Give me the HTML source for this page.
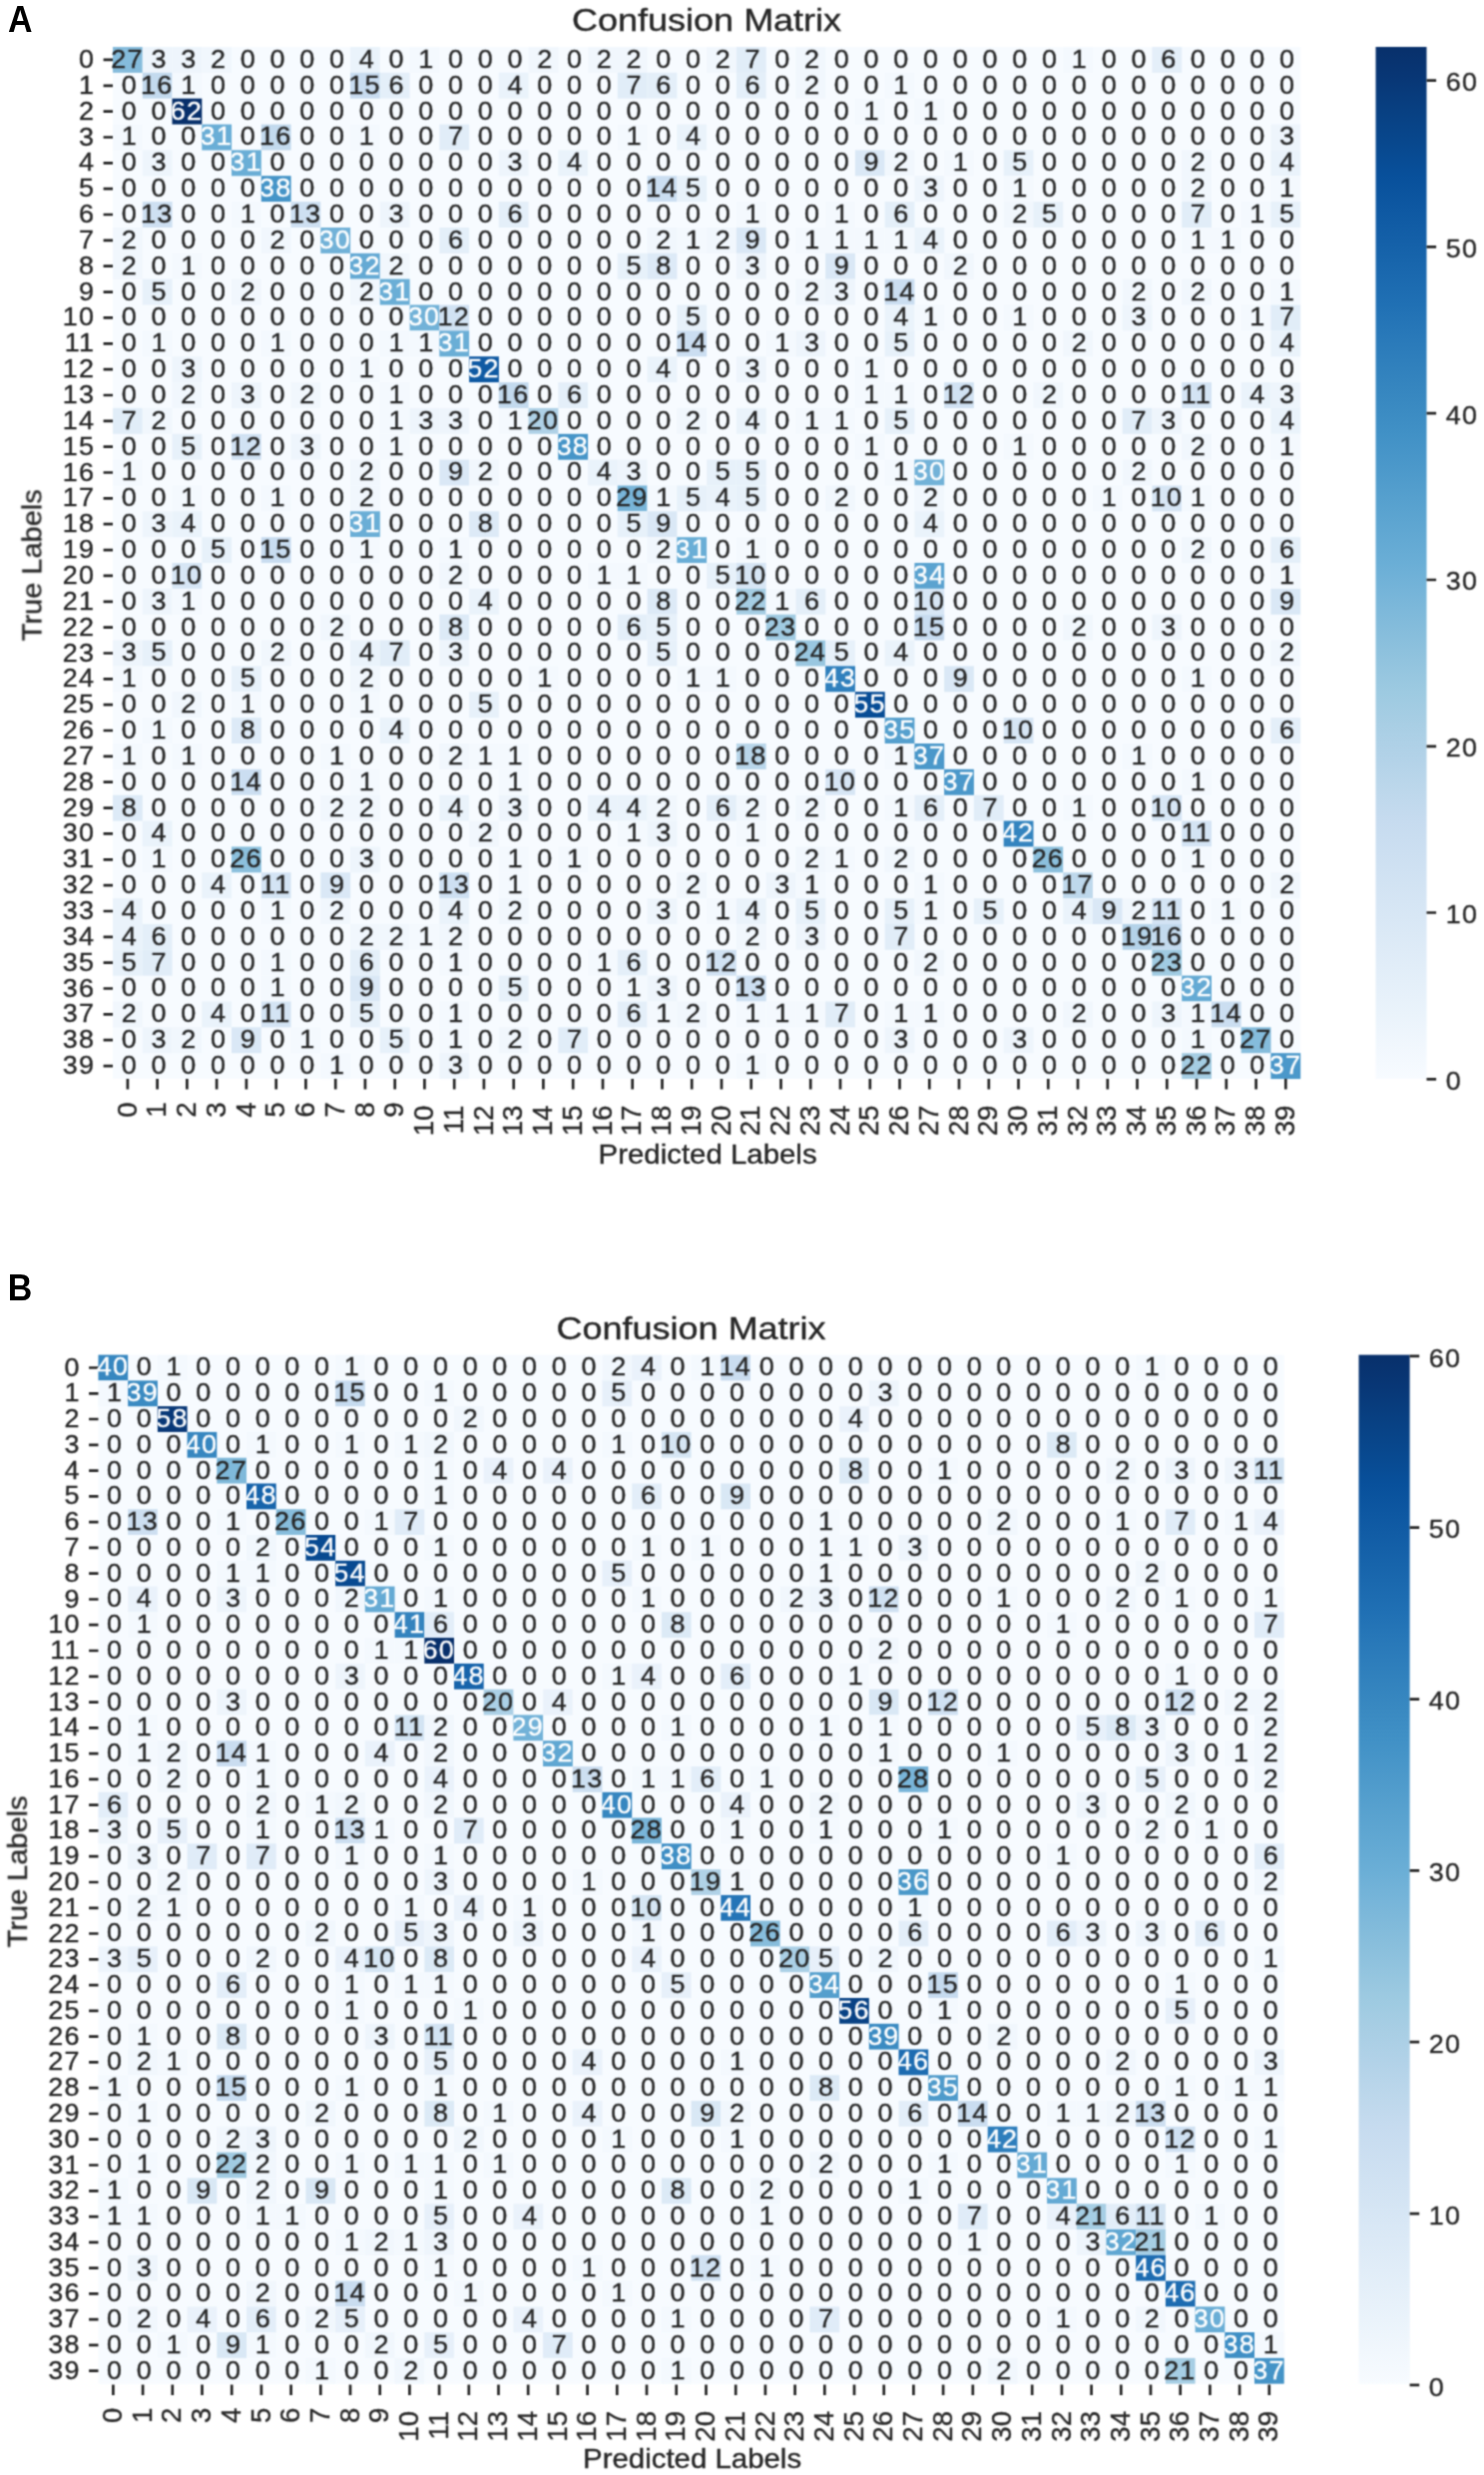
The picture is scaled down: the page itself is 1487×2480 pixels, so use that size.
<!DOCTYPE html>
<html lang="en"><head><meta charset="utf-8"><title>Confusion Matrix</title>
<style>
html,body{margin:0;padding:0;background:#fff}
svg{display:block}
text{font-family:"Liberation Sans",sans-serif;font-size:25.9px;fill:#262626;stroke:#262626;stroke-width:0.35px}
.an text{text-anchor:middle}
.an .w{fill:#fff;stroke:#fff}
.d{letter-spacing:1.2px}
.yt text{text-anchor:end}
.xt text{text-anchor:end;font-size:27.6px}
.ti{font-size:31.2px;text-anchor:middle}
.lb{text-anchor:middle;font-size:27.2px}
.pl{font-weight:bold;font-size:36.3px;fill:#000;stroke:none}
</style></head>
<body>
<svg width="1487" height="2480" viewBox="0 0 1487 2480">
<rect width="1487" height="2480" fill="#fff"/>
<defs><filter id="bl" filterUnits="userSpaceOnUse" x="0" y="0" width="1487" height="2480" color-interpolation-filters="sRGB"><feConvolveMatrix order="5 1" kernelMatrix="0.0152 0.2188 0.5321 0.2188 0.0152" edgeMode="duplicate"/><feConvolveMatrix order="1 5" kernelMatrix="0.0152 0.2188 0.5321 0.2188 0.0152" edgeMode="duplicate"/></filter><filter id="bt" filterUnits="userSpaceOnUse" x="0" y="0" width="1487" height="2480" color-interpolation-filters="sRGB"><feConvolveMatrix order="5 1" kernelMatrix="0.0219 0.2285 0.4991 0.2285 0.0219" edgeMode="duplicate"/><feConvolveMatrix order="1 5" kernelMatrix="0.0219 0.2285 0.4991 0.2285 0.0219" edgeMode="duplicate"/></filter></defs>
<g filter="url(#bl)">
<rect x="113" y="47" width="1190.2" height="1034" fill="#f7fbff"/>
<rect x="113" y="47" width="29.8" height="25.9" fill="#85bcdc"/>
<rect x="142.8" y="47" width="29.8" height="25.9" fill="#eef5fc"/>
<rect x="172.5" y="47" width="29.8" height="25.9" fill="#eef5fc"/>
<rect x="202.3" y="47" width="29.8" height="25.9" fill="#f1f7fd"/>
<rect x="351" y="47" width="29.8" height="25.9" fill="#eaf3fb"/>
<rect x="410.6" y="47" width="29.8" height="25.9" fill="#f4f9fe"/>
<rect x="529.6" y="47" width="29.8" height="25.9" fill="#f1f7fd"/>
<rect x="589.1" y="47" width="29.8" height="25.9" fill="#f1f7fd"/>
<rect x="618.8" y="47" width="29.8" height="25.9" fill="#f1f7fd"/>
<rect x="708.1" y="47" width="29.8" height="25.9" fill="#f1f7fd"/>
<rect x="737.9" y="47" width="29.8" height="25.9" fill="#e1edf8"/>
<rect x="797.4" y="47" width="29.8" height="25.9" fill="#f1f7fd"/>
<rect x="1065.2" y="47" width="29.8" height="25.9" fill="#f4f9fe"/>
<rect x="1154.4" y="47" width="29.8" height="25.9" fill="#e4eff9"/>
<rect x="142.8" y="72.8" width="29.8" height="25.9" fill="#c3daee"/>
<rect x="172.5" y="72.8" width="29.8" height="25.9" fill="#f4f9fe"/>
<rect x="351" y="72.8" width="29.8" height="25.9" fill="#c8dcf0"/>
<rect x="380.8" y="72.8" width="29.8" height="25.9" fill="#e4eff9"/>
<rect x="499.8" y="72.8" width="29.8" height="25.9" fill="#eaf3fb"/>
<rect x="618.8" y="72.8" width="29.8" height="25.9" fill="#e1edf8"/>
<rect x="648.6" y="72.8" width="29.8" height="25.9" fill="#e4eff9"/>
<rect x="737.9" y="72.8" width="29.8" height="25.9" fill="#e4eff9"/>
<rect x="797.4" y="72.8" width="29.8" height="25.9" fill="#f1f7fd"/>
<rect x="886.6" y="72.8" width="29.8" height="25.9" fill="#f4f9fe"/>
<rect x="172.5" y="98.7" width="29.8" height="25.9" fill="#08306b"/>
<rect x="856.9" y="98.7" width="29.8" height="25.9" fill="#f4f9fe"/>
<rect x="916.4" y="98.7" width="29.8" height="25.9" fill="#f4f9fe"/>
<rect x="113" y="124.6" width="29.8" height="25.9" fill="#f4f9fe"/>
<rect x="202.3" y="124.6" width="29.8" height="25.9" fill="#6aaed6"/>
<rect x="261.8" y="124.6" width="29.8" height="25.9" fill="#c3daee"/>
<rect x="351" y="124.6" width="29.8" height="25.9" fill="#f4f9fe"/>
<rect x="440.3" y="124.6" width="29.8" height="25.9" fill="#e1edf8"/>
<rect x="618.8" y="124.6" width="29.8" height="25.9" fill="#f4f9fe"/>
<rect x="678.3" y="124.6" width="29.8" height="25.9" fill="#eaf3fb"/>
<rect x="1273.4" y="124.6" width="29.8" height="25.9" fill="#eef5fc"/>
<rect x="142.8" y="150.4" width="29.8" height="25.9" fill="#eef5fc"/>
<rect x="232" y="150.4" width="29.8" height="25.9" fill="#6aaed6"/>
<rect x="499.8" y="150.4" width="29.8" height="25.9" fill="#eef5fc"/>
<rect x="559.3" y="150.4" width="29.8" height="25.9" fill="#eaf3fb"/>
<rect x="856.9" y="150.4" width="29.8" height="25.9" fill="#dae8f6"/>
<rect x="886.6" y="150.4" width="29.8" height="25.9" fill="#f1f7fd"/>
<rect x="946.1" y="150.4" width="29.8" height="25.9" fill="#f4f9fe"/>
<rect x="1005.7" y="150.4" width="29.8" height="25.9" fill="#e7f1fa"/>
<rect x="1184.2" y="150.4" width="29.8" height="25.9" fill="#f1f7fd"/>
<rect x="1273.4" y="150.4" width="29.8" height="25.9" fill="#eaf3fb"/>
<rect x="261.8" y="176.2" width="29.8" height="25.9" fill="#4695c8"/>
<rect x="648.6" y="176.2" width="29.8" height="25.9" fill="#cbdef1"/>
<rect x="678.3" y="176.2" width="29.8" height="25.9" fill="#e7f1fa"/>
<rect x="916.4" y="176.2" width="29.8" height="25.9" fill="#eef5fc"/>
<rect x="1005.7" y="176.2" width="29.8" height="25.9" fill="#f4f9fe"/>
<rect x="1184.2" y="176.2" width="29.8" height="25.9" fill="#f1f7fd"/>
<rect x="1273.4" y="176.2" width="29.8" height="25.9" fill="#f4f9fe"/>
<rect x="142.8" y="202.1" width="29.8" height="25.9" fill="#cee0f2"/>
<rect x="232" y="202.1" width="29.8" height="25.9" fill="#f4f9fe"/>
<rect x="291.5" y="202.1" width="29.8" height="25.9" fill="#cee0f2"/>
<rect x="380.8" y="202.1" width="29.8" height="25.9" fill="#eef5fc"/>
<rect x="499.8" y="202.1" width="29.8" height="25.9" fill="#e4eff9"/>
<rect x="737.9" y="202.1" width="29.8" height="25.9" fill="#f4f9fe"/>
<rect x="827.1" y="202.1" width="29.8" height="25.9" fill="#f4f9fe"/>
<rect x="886.6" y="202.1" width="29.8" height="25.9" fill="#e4eff9"/>
<rect x="1005.7" y="202.1" width="29.8" height="25.9" fill="#f1f7fd"/>
<rect x="1035.4" y="202.1" width="29.8" height="25.9" fill="#e7f1fa"/>
<rect x="1184.2" y="202.1" width="29.8" height="25.9" fill="#e1edf8"/>
<rect x="1243.7" y="202.1" width="29.8" height="25.9" fill="#f4f9fe"/>
<rect x="1273.4" y="202.1" width="29.8" height="25.9" fill="#e7f1fa"/>
<rect x="113" y="228" width="29.8" height="25.9" fill="#f1f7fd"/>
<rect x="261.8" y="228" width="29.8" height="25.9" fill="#f1f7fd"/>
<rect x="321.3" y="228" width="29.8" height="25.9" fill="#72b2d8"/>
<rect x="440.3" y="228" width="29.8" height="25.9" fill="#e4eff9"/>
<rect x="648.6" y="228" width="29.8" height="25.9" fill="#f1f7fd"/>
<rect x="678.3" y="228" width="29.8" height="25.9" fill="#f4f9fe"/>
<rect x="708.1" y="228" width="29.8" height="25.9" fill="#f1f7fd"/>
<rect x="737.9" y="228" width="29.8" height="25.9" fill="#dae8f6"/>
<rect x="797.4" y="228" width="29.8" height="25.9" fill="#f4f9fe"/>
<rect x="827.1" y="228" width="29.8" height="25.9" fill="#f4f9fe"/>
<rect x="856.9" y="228" width="29.8" height="25.9" fill="#f4f9fe"/>
<rect x="886.6" y="228" width="29.8" height="25.9" fill="#f4f9fe"/>
<rect x="916.4" y="228" width="29.8" height="25.9" fill="#eaf3fb"/>
<rect x="1184.2" y="228" width="29.8" height="25.9" fill="#f4f9fe"/>
<rect x="1213.9" y="228" width="29.8" height="25.9" fill="#f4f9fe"/>
<rect x="113" y="253.8" width="29.8" height="25.9" fill="#f1f7fd"/>
<rect x="172.5" y="253.8" width="29.8" height="25.9" fill="#f4f9fe"/>
<rect x="351" y="253.8" width="29.8" height="25.9" fill="#65aad4"/>
<rect x="380.8" y="253.8" width="29.8" height="25.9" fill="#f1f7fd"/>
<rect x="618.8" y="253.8" width="29.8" height="25.9" fill="#e7f1fa"/>
<rect x="648.6" y="253.8" width="29.8" height="25.9" fill="#ddeaf7"/>
<rect x="737.9" y="253.8" width="29.8" height="25.9" fill="#eef5fc"/>
<rect x="827.1" y="253.8" width="29.8" height="25.9" fill="#dae8f6"/>
<rect x="946.1" y="253.8" width="29.8" height="25.9" fill="#f1f7fd"/>
<rect x="142.8" y="279.6" width="29.8" height="25.9" fill="#e7f1fa"/>
<rect x="232" y="279.6" width="29.8" height="25.9" fill="#f1f7fd"/>
<rect x="351" y="279.6" width="29.8" height="25.9" fill="#f1f7fd"/>
<rect x="380.8" y="279.6" width="29.8" height="25.9" fill="#6aaed6"/>
<rect x="797.4" y="279.6" width="29.8" height="25.9" fill="#f1f7fd"/>
<rect x="827.1" y="279.6" width="29.8" height="25.9" fill="#eef5fc"/>
<rect x="886.6" y="279.6" width="29.8" height="25.9" fill="#cbdef1"/>
<rect x="1124.7" y="279.6" width="29.8" height="25.9" fill="#f1f7fd"/>
<rect x="1184.2" y="279.6" width="29.8" height="25.9" fill="#f1f7fd"/>
<rect x="1273.4" y="279.6" width="29.8" height="25.9" fill="#f4f9fe"/>
<rect x="410.6" y="305.5" width="29.8" height="25.9" fill="#72b2d8"/>
<rect x="440.3" y="305.5" width="29.8" height="25.9" fill="#d1e2f3"/>
<rect x="678.3" y="305.5" width="29.8" height="25.9" fill="#e7f1fa"/>
<rect x="886.6" y="305.5" width="29.8" height="25.9" fill="#eaf3fb"/>
<rect x="916.4" y="305.5" width="29.8" height="25.9" fill="#f4f9fe"/>
<rect x="1005.7" y="305.5" width="29.8" height="25.9" fill="#f4f9fe"/>
<rect x="1124.7" y="305.5" width="29.8" height="25.9" fill="#eef5fc"/>
<rect x="1243.7" y="305.5" width="29.8" height="25.9" fill="#f4f9fe"/>
<rect x="1273.4" y="305.5" width="29.8" height="25.9" fill="#e1edf8"/>
<rect x="142.8" y="331.4" width="29.8" height="25.9" fill="#f4f9fe"/>
<rect x="261.8" y="331.4" width="29.8" height="25.9" fill="#f4f9fe"/>
<rect x="380.8" y="331.4" width="29.8" height="25.9" fill="#f4f9fe"/>
<rect x="410.6" y="331.4" width="29.8" height="25.9" fill="#f4f9fe"/>
<rect x="440.3" y="331.4" width="29.8" height="25.9" fill="#6aaed6"/>
<rect x="678.3" y="331.4" width="29.8" height="25.9" fill="#cbdef1"/>
<rect x="767.6" y="331.4" width="29.8" height="25.9" fill="#f4f9fe"/>
<rect x="797.4" y="331.4" width="29.8" height="25.9" fill="#eef5fc"/>
<rect x="886.6" y="331.4" width="29.8" height="25.9" fill="#e7f1fa"/>
<rect x="1065.2" y="331.4" width="29.8" height="25.9" fill="#f1f7fd"/>
<rect x="1273.4" y="331.4" width="29.8" height="25.9" fill="#eaf3fb"/>
<rect x="172.5" y="357.2" width="29.8" height="25.9" fill="#eef5fc"/>
<rect x="351" y="357.2" width="29.8" height="25.9" fill="#f4f9fe"/>
<rect x="470.1" y="357.2" width="29.8" height="25.9" fill="#0f5aa3"/>
<rect x="648.6" y="357.2" width="29.8" height="25.9" fill="#eaf3fb"/>
<rect x="737.9" y="357.2" width="29.8" height="25.9" fill="#eef5fc"/>
<rect x="856.9" y="357.2" width="29.8" height="25.9" fill="#f4f9fe"/>
<rect x="172.5" y="383.1" width="29.8" height="25.9" fill="#f1f7fd"/>
<rect x="232" y="383.1" width="29.8" height="25.9" fill="#eef5fc"/>
<rect x="291.5" y="383.1" width="29.8" height="25.9" fill="#f1f7fd"/>
<rect x="380.8" y="383.1" width="29.8" height="25.9" fill="#f4f9fe"/>
<rect x="499.8" y="383.1" width="29.8" height="25.9" fill="#c3daee"/>
<rect x="559.3" y="383.1" width="29.8" height="25.9" fill="#e4eff9"/>
<rect x="856.9" y="383.1" width="29.8" height="25.9" fill="#f4f9fe"/>
<rect x="886.6" y="383.1" width="29.8" height="25.9" fill="#f4f9fe"/>
<rect x="946.1" y="383.1" width="29.8" height="25.9" fill="#d1e2f3"/>
<rect x="1035.4" y="383.1" width="29.8" height="25.9" fill="#f1f7fd"/>
<rect x="1184.2" y="383.1" width="29.8" height="25.9" fill="#d4e4f4"/>
<rect x="1243.7" y="383.1" width="29.8" height="25.9" fill="#eaf3fb"/>
<rect x="1273.4" y="383.1" width="29.8" height="25.9" fill="#eef5fc"/>
<rect x="113" y="408.9" width="29.8" height="25.9" fill="#e1edf8"/>
<rect x="142.8" y="408.9" width="29.8" height="25.9" fill="#f1f7fd"/>
<rect x="380.8" y="408.9" width="29.8" height="25.9" fill="#f4f9fe"/>
<rect x="410.6" y="408.9" width="29.8" height="25.9" fill="#eef5fc"/>
<rect x="440.3" y="408.9" width="29.8" height="25.9" fill="#eef5fc"/>
<rect x="499.8" y="408.9" width="29.8" height="25.9" fill="#f4f9fe"/>
<rect x="529.6" y="408.9" width="29.8" height="25.9" fill="#afd1e7"/>
<rect x="678.3" y="408.9" width="29.8" height="25.9" fill="#f1f7fd"/>
<rect x="737.9" y="408.9" width="29.8" height="25.9" fill="#eaf3fb"/>
<rect x="797.4" y="408.9" width="29.8" height="25.9" fill="#f4f9fe"/>
<rect x="827.1" y="408.9" width="29.8" height="25.9" fill="#f4f9fe"/>
<rect x="886.6" y="408.9" width="29.8" height="25.9" fill="#e7f1fa"/>
<rect x="1124.7" y="408.9" width="29.8" height="25.9" fill="#e1edf8"/>
<rect x="1154.4" y="408.9" width="29.8" height="25.9" fill="#eef5fc"/>
<rect x="1273.4" y="408.9" width="29.8" height="25.9" fill="#eaf3fb"/>
<rect x="172.5" y="434.8" width="29.8" height="25.9" fill="#e7f1fa"/>
<rect x="232" y="434.8" width="29.8" height="25.9" fill="#d1e2f3"/>
<rect x="291.5" y="434.8" width="29.8" height="25.9" fill="#eef5fc"/>
<rect x="380.8" y="434.8" width="29.8" height="25.9" fill="#f4f9fe"/>
<rect x="559.3" y="434.8" width="29.8" height="25.9" fill="#4695c8"/>
<rect x="856.9" y="434.8" width="29.8" height="25.9" fill="#f4f9fe"/>
<rect x="1005.7" y="434.8" width="29.8" height="25.9" fill="#f4f9fe"/>
<rect x="1184.2" y="434.8" width="29.8" height="25.9" fill="#f1f7fd"/>
<rect x="1273.4" y="434.8" width="29.8" height="25.9" fill="#f4f9fe"/>
<rect x="113" y="460.6" width="29.8" height="25.9" fill="#f4f9fe"/>
<rect x="351" y="460.6" width="29.8" height="25.9" fill="#f1f7fd"/>
<rect x="440.3" y="460.6" width="29.8" height="25.9" fill="#dae8f6"/>
<rect x="470.1" y="460.6" width="29.8" height="25.9" fill="#f1f7fd"/>
<rect x="589.1" y="460.6" width="29.8" height="25.9" fill="#eaf3fb"/>
<rect x="618.8" y="460.6" width="29.8" height="25.9" fill="#eef5fc"/>
<rect x="708.1" y="460.6" width="29.8" height="25.9" fill="#e7f1fa"/>
<rect x="737.9" y="460.6" width="29.8" height="25.9" fill="#e7f1fa"/>
<rect x="886.6" y="460.6" width="29.8" height="25.9" fill="#f4f9fe"/>
<rect x="916.4" y="460.6" width="29.8" height="25.9" fill="#72b2d8"/>
<rect x="1124.7" y="460.6" width="29.8" height="25.9" fill="#f1f7fd"/>
<rect x="172.5" y="486.5" width="29.8" height="25.9" fill="#f4f9fe"/>
<rect x="261.8" y="486.5" width="29.8" height="25.9" fill="#f4f9fe"/>
<rect x="351" y="486.5" width="29.8" height="25.9" fill="#f1f7fd"/>
<rect x="618.8" y="486.5" width="29.8" height="25.9" fill="#79b5d9"/>
<rect x="648.6" y="486.5" width="29.8" height="25.9" fill="#f4f9fe"/>
<rect x="678.3" y="486.5" width="29.8" height="25.9" fill="#e7f1fa"/>
<rect x="708.1" y="486.5" width="29.8" height="25.9" fill="#eaf3fb"/>
<rect x="737.9" y="486.5" width="29.8" height="25.9" fill="#e7f1fa"/>
<rect x="827.1" y="486.5" width="29.8" height="25.9" fill="#f1f7fd"/>
<rect x="916.4" y="486.5" width="29.8" height="25.9" fill="#f1f7fd"/>
<rect x="1094.9" y="486.5" width="29.8" height="25.9" fill="#f4f9fe"/>
<rect x="1154.4" y="486.5" width="29.8" height="25.9" fill="#d7e6f5"/>
<rect x="1184.2" y="486.5" width="29.8" height="25.9" fill="#f4f9fe"/>
<rect x="142.8" y="512.3" width="29.8" height="25.9" fill="#eef5fc"/>
<rect x="172.5" y="512.3" width="29.8" height="25.9" fill="#eaf3fb"/>
<rect x="351" y="512.3" width="29.8" height="25.9" fill="#6aaed6"/>
<rect x="470.1" y="512.3" width="29.8" height="25.9" fill="#ddeaf7"/>
<rect x="618.8" y="512.3" width="29.8" height="25.9" fill="#e7f1fa"/>
<rect x="648.6" y="512.3" width="29.8" height="25.9" fill="#dae8f6"/>
<rect x="916.4" y="512.3" width="29.8" height="25.9" fill="#eaf3fb"/>
<rect x="202.3" y="538.2" width="29.8" height="25.9" fill="#e7f1fa"/>
<rect x="261.8" y="538.2" width="29.8" height="25.9" fill="#c8dcf0"/>
<rect x="351" y="538.2" width="29.8" height="25.9" fill="#f4f9fe"/>
<rect x="440.3" y="538.2" width="29.8" height="25.9" fill="#f4f9fe"/>
<rect x="648.6" y="538.2" width="29.8" height="25.9" fill="#f1f7fd"/>
<rect x="678.3" y="538.2" width="29.8" height="25.9" fill="#6aaed6"/>
<rect x="737.9" y="538.2" width="29.8" height="25.9" fill="#f4f9fe"/>
<rect x="1184.2" y="538.2" width="29.8" height="25.9" fill="#f1f7fd"/>
<rect x="1273.4" y="538.2" width="29.8" height="25.9" fill="#e4eff9"/>
<rect x="172.5" y="564" width="29.8" height="25.9" fill="#d7e6f5"/>
<rect x="440.3" y="564" width="29.8" height="25.9" fill="#f1f7fd"/>
<rect x="589.1" y="564" width="29.8" height="25.9" fill="#f4f9fe"/>
<rect x="618.8" y="564" width="29.8" height="25.9" fill="#f4f9fe"/>
<rect x="708.1" y="564" width="29.8" height="25.9" fill="#e7f1fa"/>
<rect x="737.9" y="564" width="29.8" height="25.9" fill="#d7e6f5"/>
<rect x="916.4" y="564" width="29.8" height="25.9" fill="#5ba3d0"/>
<rect x="1273.4" y="564" width="29.8" height="25.9" fill="#f4f9fe"/>
<rect x="142.8" y="589.9" width="29.8" height="25.9" fill="#eef5fc"/>
<rect x="172.5" y="589.9" width="29.8" height="25.9" fill="#f4f9fe"/>
<rect x="470.1" y="589.9" width="29.8" height="25.9" fill="#eaf3fb"/>
<rect x="648.6" y="589.9" width="29.8" height="25.9" fill="#ddeaf7"/>
<rect x="737.9" y="589.9" width="29.8" height="25.9" fill="#a5cde3"/>
<rect x="767.6" y="589.9" width="29.8" height="25.9" fill="#f4f9fe"/>
<rect x="797.4" y="589.9" width="29.8" height="25.9" fill="#e4eff9"/>
<rect x="916.4" y="589.9" width="29.8" height="25.9" fill="#d7e6f5"/>
<rect x="1273.4" y="589.9" width="29.8" height="25.9" fill="#dae8f6"/>
<rect x="321.3" y="615.7" width="29.8" height="25.9" fill="#f1f7fd"/>
<rect x="440.3" y="615.7" width="29.8" height="25.9" fill="#ddeaf7"/>
<rect x="618.8" y="615.7" width="29.8" height="25.9" fill="#e4eff9"/>
<rect x="648.6" y="615.7" width="29.8" height="25.9" fill="#e7f1fa"/>
<rect x="767.6" y="615.7" width="29.8" height="25.9" fill="#a0cbe2"/>
<rect x="916.4" y="615.7" width="29.8" height="25.9" fill="#c8dcf0"/>
<rect x="1065.2" y="615.7" width="29.8" height="25.9" fill="#f1f7fd"/>
<rect x="1154.4" y="615.7" width="29.8" height="25.9" fill="#eef5fc"/>
<rect x="113" y="641.6" width="29.8" height="25.9" fill="#eef5fc"/>
<rect x="142.8" y="641.6" width="29.8" height="25.9" fill="#e7f1fa"/>
<rect x="261.8" y="641.6" width="29.8" height="25.9" fill="#f1f7fd"/>
<rect x="351" y="641.6" width="29.8" height="25.9" fill="#eaf3fb"/>
<rect x="380.8" y="641.6" width="29.8" height="25.9" fill="#e1edf8"/>
<rect x="440.3" y="641.6" width="29.8" height="25.9" fill="#eef5fc"/>
<rect x="648.6" y="641.6" width="29.8" height="25.9" fill="#e7f1fa"/>
<rect x="797.4" y="641.6" width="29.8" height="25.9" fill="#99c7e0"/>
<rect x="827.1" y="641.6" width="29.8" height="25.9" fill="#e7f1fa"/>
<rect x="886.6" y="641.6" width="29.8" height="25.9" fill="#eaf3fb"/>
<rect x="1273.4" y="641.6" width="29.8" height="25.9" fill="#f1f7fd"/>
<rect x="113" y="667.4" width="29.8" height="25.9" fill="#f4f9fe"/>
<rect x="232" y="667.4" width="29.8" height="25.9" fill="#e7f1fa"/>
<rect x="351" y="667.4" width="29.8" height="25.9" fill="#f1f7fd"/>
<rect x="529.6" y="667.4" width="29.8" height="25.9" fill="#f4f9fe"/>
<rect x="678.3" y="667.4" width="29.8" height="25.9" fill="#f4f9fe"/>
<rect x="708.1" y="667.4" width="29.8" height="25.9" fill="#f4f9fe"/>
<rect x="827.1" y="667.4" width="29.8" height="25.9" fill="#3080bd"/>
<rect x="946.1" y="667.4" width="29.8" height="25.9" fill="#dae8f6"/>
<rect x="1184.2" y="667.4" width="29.8" height="25.9" fill="#f4f9fe"/>
<rect x="172.5" y="693.2" width="29.8" height="25.9" fill="#f1f7fd"/>
<rect x="232" y="693.2" width="29.8" height="25.9" fill="#f4f9fe"/>
<rect x="351" y="693.2" width="29.8" height="25.9" fill="#f4f9fe"/>
<rect x="470.1" y="693.2" width="29.8" height="25.9" fill="#e7f1fa"/>
<rect x="856.9" y="693.2" width="29.8" height="25.9" fill="#084d96"/>
<rect x="142.8" y="719.1" width="29.8" height="25.9" fill="#f4f9fe"/>
<rect x="232" y="719.1" width="29.8" height="25.9" fill="#ddeaf7"/>
<rect x="380.8" y="719.1" width="29.8" height="25.9" fill="#eaf3fb"/>
<rect x="886.6" y="719.1" width="29.8" height="25.9" fill="#56a0ce"/>
<rect x="1005.7" y="719.1" width="29.8" height="25.9" fill="#d7e6f5"/>
<rect x="1273.4" y="719.1" width="29.8" height="25.9" fill="#e4eff9"/>
<rect x="113" y="745" width="29.8" height="25.9" fill="#f4f9fe"/>
<rect x="172.5" y="745" width="29.8" height="25.9" fill="#f4f9fe"/>
<rect x="321.3" y="745" width="29.8" height="25.9" fill="#f4f9fe"/>
<rect x="440.3" y="745" width="29.8" height="25.9" fill="#f1f7fd"/>
<rect x="470.1" y="745" width="29.8" height="25.9" fill="#f4f9fe"/>
<rect x="499.8" y="745" width="29.8" height="25.9" fill="#f4f9fe"/>
<rect x="737.9" y="745" width="29.8" height="25.9" fill="#b9d6ea"/>
<rect x="886.6" y="745" width="29.8" height="25.9" fill="#f4f9fe"/>
<rect x="916.4" y="745" width="29.8" height="25.9" fill="#4b98ca"/>
<rect x="1124.7" y="745" width="29.8" height="25.9" fill="#f4f9fe"/>
<rect x="232" y="770.8" width="29.8" height="25.9" fill="#cbdef1"/>
<rect x="351" y="770.8" width="29.8" height="25.9" fill="#f4f9fe"/>
<rect x="499.8" y="770.8" width="29.8" height="25.9" fill="#f4f9fe"/>
<rect x="827.1" y="770.8" width="29.8" height="25.9" fill="#d7e6f5"/>
<rect x="946.1" y="770.8" width="29.8" height="25.9" fill="#4b98ca"/>
<rect x="1184.2" y="770.8" width="29.8" height="25.9" fill="#f4f9fe"/>
<rect x="113" y="796.7" width="29.8" height="25.9" fill="#ddeaf7"/>
<rect x="321.3" y="796.7" width="29.8" height="25.9" fill="#f1f7fd"/>
<rect x="351" y="796.7" width="29.8" height="25.9" fill="#f1f7fd"/>
<rect x="440.3" y="796.7" width="29.8" height="25.9" fill="#eaf3fb"/>
<rect x="499.8" y="796.7" width="29.8" height="25.9" fill="#eef5fc"/>
<rect x="589.1" y="796.7" width="29.8" height="25.9" fill="#eaf3fb"/>
<rect x="618.8" y="796.7" width="29.8" height="25.9" fill="#eaf3fb"/>
<rect x="648.6" y="796.7" width="29.8" height="25.9" fill="#f1f7fd"/>
<rect x="708.1" y="796.7" width="29.8" height="25.9" fill="#e4eff9"/>
<rect x="737.9" y="796.7" width="29.8" height="25.9" fill="#f1f7fd"/>
<rect x="797.4" y="796.7" width="29.8" height="25.9" fill="#f1f7fd"/>
<rect x="886.6" y="796.7" width="29.8" height="25.9" fill="#f4f9fe"/>
<rect x="916.4" y="796.7" width="29.8" height="25.9" fill="#e4eff9"/>
<rect x="975.9" y="796.7" width="29.8" height="25.9" fill="#e1edf8"/>
<rect x="1065.2" y="796.7" width="29.8" height="25.9" fill="#f4f9fe"/>
<rect x="1154.4" y="796.7" width="29.8" height="25.9" fill="#d7e6f5"/>
<rect x="142.8" y="822.5" width="29.8" height="25.9" fill="#eaf3fb"/>
<rect x="470.1" y="822.5" width="29.8" height="25.9" fill="#f1f7fd"/>
<rect x="618.8" y="822.5" width="29.8" height="25.9" fill="#f4f9fe"/>
<rect x="648.6" y="822.5" width="29.8" height="25.9" fill="#eef5fc"/>
<rect x="737.9" y="822.5" width="29.8" height="25.9" fill="#f4f9fe"/>
<rect x="1005.7" y="822.5" width="29.8" height="25.9" fill="#3484bf"/>
<rect x="1184.2" y="822.5" width="29.8" height="25.9" fill="#d4e4f4"/>
<rect x="142.8" y="848.4" width="29.8" height="25.9" fill="#f4f9fe"/>
<rect x="232" y="848.4" width="29.8" height="25.9" fill="#8cc0dd"/>
<rect x="351" y="848.4" width="29.8" height="25.9" fill="#eef5fc"/>
<rect x="499.8" y="848.4" width="29.8" height="25.9" fill="#f4f9fe"/>
<rect x="559.3" y="848.4" width="29.8" height="25.9" fill="#f4f9fe"/>
<rect x="797.4" y="848.4" width="29.8" height="25.9" fill="#f1f7fd"/>
<rect x="827.1" y="848.4" width="29.8" height="25.9" fill="#f4f9fe"/>
<rect x="886.6" y="848.4" width="29.8" height="25.9" fill="#f1f7fd"/>
<rect x="1035.4" y="848.4" width="29.8" height="25.9" fill="#8cc0dd"/>
<rect x="1184.2" y="848.4" width="29.8" height="25.9" fill="#f4f9fe"/>
<rect x="202.3" y="874.2" width="29.8" height="25.9" fill="#eaf3fb"/>
<rect x="261.8" y="874.2" width="29.8" height="25.9" fill="#d4e4f4"/>
<rect x="321.3" y="874.2" width="29.8" height="25.9" fill="#dae8f6"/>
<rect x="440.3" y="874.2" width="29.8" height="25.9" fill="#cee0f2"/>
<rect x="499.8" y="874.2" width="29.8" height="25.9" fill="#f4f9fe"/>
<rect x="678.3" y="874.2" width="29.8" height="25.9" fill="#f1f7fd"/>
<rect x="767.6" y="874.2" width="29.8" height="25.9" fill="#eef5fc"/>
<rect x="797.4" y="874.2" width="29.8" height="25.9" fill="#f4f9fe"/>
<rect x="916.4" y="874.2" width="29.8" height="25.9" fill="#f4f9fe"/>
<rect x="1065.2" y="874.2" width="29.8" height="25.9" fill="#bed8ec"/>
<rect x="1273.4" y="874.2" width="29.8" height="25.9" fill="#f1f7fd"/>
<rect x="113" y="900.1" width="29.8" height="25.9" fill="#eaf3fb"/>
<rect x="261.8" y="900.1" width="29.8" height="25.9" fill="#f4f9fe"/>
<rect x="321.3" y="900.1" width="29.8" height="25.9" fill="#f1f7fd"/>
<rect x="440.3" y="900.1" width="29.8" height="25.9" fill="#eaf3fb"/>
<rect x="499.8" y="900.1" width="29.8" height="25.9" fill="#f1f7fd"/>
<rect x="648.6" y="900.1" width="29.8" height="25.9" fill="#eef5fc"/>
<rect x="708.1" y="900.1" width="29.8" height="25.9" fill="#f4f9fe"/>
<rect x="737.9" y="900.1" width="29.8" height="25.9" fill="#eaf3fb"/>
<rect x="797.4" y="900.1" width="29.8" height="25.9" fill="#e7f1fa"/>
<rect x="886.6" y="900.1" width="29.8" height="25.9" fill="#e7f1fa"/>
<rect x="916.4" y="900.1" width="29.8" height="25.9" fill="#f4f9fe"/>
<rect x="975.9" y="900.1" width="29.8" height="25.9" fill="#e7f1fa"/>
<rect x="1065.2" y="900.1" width="29.8" height="25.9" fill="#eaf3fb"/>
<rect x="1094.9" y="900.1" width="29.8" height="25.9" fill="#dae8f6"/>
<rect x="1124.7" y="900.1" width="29.8" height="25.9" fill="#f1f7fd"/>
<rect x="1154.4" y="900.1" width="29.8" height="25.9" fill="#d4e4f4"/>
<rect x="1213.9" y="900.1" width="29.8" height="25.9" fill="#f4f9fe"/>
<rect x="113" y="925.9" width="29.8" height="25.9" fill="#eaf3fb"/>
<rect x="142.8" y="925.9" width="29.8" height="25.9" fill="#e4eff9"/>
<rect x="351" y="925.9" width="29.8" height="25.9" fill="#f1f7fd"/>
<rect x="380.8" y="925.9" width="29.8" height="25.9" fill="#f1f7fd"/>
<rect x="410.6" y="925.9" width="29.8" height="25.9" fill="#f4f9fe"/>
<rect x="440.3" y="925.9" width="29.8" height="25.9" fill="#f1f7fd"/>
<rect x="737.9" y="925.9" width="29.8" height="25.9" fill="#f1f7fd"/>
<rect x="797.4" y="925.9" width="29.8" height="25.9" fill="#eef5fc"/>
<rect x="886.6" y="925.9" width="29.8" height="25.9" fill="#e1edf8"/>
<rect x="1124.7" y="925.9" width="29.8" height="25.9" fill="#b4d3e9"/>
<rect x="1154.4" y="925.9" width="29.8" height="25.9" fill="#c3daee"/>
<rect x="113" y="951.8" width="29.8" height="25.9" fill="#e7f1fa"/>
<rect x="142.8" y="951.8" width="29.8" height="25.9" fill="#e1edf8"/>
<rect x="261.8" y="951.8" width="29.8" height="25.9" fill="#f4f9fe"/>
<rect x="351" y="951.8" width="29.8" height="25.9" fill="#e4eff9"/>
<rect x="440.3" y="951.8" width="29.8" height="25.9" fill="#f4f9fe"/>
<rect x="589.1" y="951.8" width="29.8" height="25.9" fill="#f4f9fe"/>
<rect x="618.8" y="951.8" width="29.8" height="25.9" fill="#e4eff9"/>
<rect x="708.1" y="951.8" width="29.8" height="25.9" fill="#d1e2f3"/>
<rect x="916.4" y="951.8" width="29.8" height="25.9" fill="#f1f7fd"/>
<rect x="1154.4" y="951.8" width="29.8" height="25.9" fill="#a0cbe2"/>
<rect x="261.8" y="977.6" width="29.8" height="25.9" fill="#f4f9fe"/>
<rect x="351" y="977.6" width="29.8" height="25.9" fill="#dae8f6"/>
<rect x="499.8" y="977.6" width="29.8" height="25.9" fill="#e7f1fa"/>
<rect x="618.8" y="977.6" width="29.8" height="25.9" fill="#f4f9fe"/>
<rect x="648.6" y="977.6" width="29.8" height="25.9" fill="#eef5fc"/>
<rect x="737.9" y="977.6" width="29.8" height="25.9" fill="#cee0f2"/>
<rect x="1184.2" y="977.6" width="29.8" height="25.9" fill="#65aad4"/>
<rect x="113" y="1003.5" width="29.8" height="25.9" fill="#f1f7fd"/>
<rect x="202.3" y="1003.5" width="29.8" height="25.9" fill="#eaf3fb"/>
<rect x="261.8" y="1003.5" width="29.8" height="25.9" fill="#d4e4f4"/>
<rect x="351" y="1003.5" width="29.8" height="25.9" fill="#e7f1fa"/>
<rect x="440.3" y="1003.5" width="29.8" height="25.9" fill="#f4f9fe"/>
<rect x="618.8" y="1003.5" width="29.8" height="25.9" fill="#e4eff9"/>
<rect x="648.6" y="1003.5" width="29.8" height="25.9" fill="#f4f9fe"/>
<rect x="678.3" y="1003.5" width="29.8" height="25.9" fill="#f1f7fd"/>
<rect x="737.9" y="1003.5" width="29.8" height="25.9" fill="#f4f9fe"/>
<rect x="767.6" y="1003.5" width="29.8" height="25.9" fill="#f4f9fe"/>
<rect x="797.4" y="1003.5" width="29.8" height="25.9" fill="#f4f9fe"/>
<rect x="827.1" y="1003.5" width="29.8" height="25.9" fill="#e1edf8"/>
<rect x="886.6" y="1003.5" width="29.8" height="25.9" fill="#f4f9fe"/>
<rect x="916.4" y="1003.5" width="29.8" height="25.9" fill="#f4f9fe"/>
<rect x="1065.2" y="1003.5" width="29.8" height="25.9" fill="#f1f7fd"/>
<rect x="1154.4" y="1003.5" width="29.8" height="25.9" fill="#eef5fc"/>
<rect x="1184.2" y="1003.5" width="29.8" height="25.9" fill="#f4f9fe"/>
<rect x="1213.9" y="1003.5" width="29.8" height="25.9" fill="#cbdef1"/>
<rect x="142.8" y="1029.3" width="29.8" height="25.9" fill="#eef5fc"/>
<rect x="172.5" y="1029.3" width="29.8" height="25.9" fill="#f1f7fd"/>
<rect x="232" y="1029.3" width="29.8" height="25.9" fill="#dae8f6"/>
<rect x="291.5" y="1029.3" width="29.8" height="25.9" fill="#f4f9fe"/>
<rect x="380.8" y="1029.3" width="29.8" height="25.9" fill="#e7f1fa"/>
<rect x="440.3" y="1029.3" width="29.8" height="25.9" fill="#f4f9fe"/>
<rect x="499.8" y="1029.3" width="29.8" height="25.9" fill="#f1f7fd"/>
<rect x="559.3" y="1029.3" width="29.8" height="25.9" fill="#e1edf8"/>
<rect x="886.6" y="1029.3" width="29.8" height="25.9" fill="#eef5fc"/>
<rect x="1005.7" y="1029.3" width="29.8" height="25.9" fill="#eef5fc"/>
<rect x="1184.2" y="1029.3" width="29.8" height="25.9" fill="#f4f9fe"/>
<rect x="1243.7" y="1029.3" width="29.8" height="25.9" fill="#85bcdc"/>
<rect x="321.3" y="1055.2" width="29.8" height="25.9" fill="#f4f9fe"/>
<rect x="440.3" y="1055.2" width="29.8" height="25.9" fill="#eef5fc"/>
<rect x="737.9" y="1055.2" width="29.8" height="25.9" fill="#f4f9fe"/>
<rect x="1184.2" y="1055.2" width="29.8" height="25.9" fill="#a5cde3"/>
<rect x="1273.4" y="1055.2" width="29.8" height="25.9" fill="#4b98ca"/>
<path d="M103.6 59.9H113M103.6 85.8H113M103.6 111.6H113M103.6 137.5H113M103.6 163.3H113M103.6 189.2H113M103.6 215H113M103.6 240.9H113M103.6 266.7H113M103.6 292.6H113M103.6 318.4H113M103.6 344.3H113M103.6 370.1H113M103.6 396H113M103.6 421.8H113M103.6 447.7H113M103.6 473.5H113M103.6 499.4H113M103.6 525.2H113M103.6 551.1H113M103.6 576.9H113M103.6 602.8H113M103.6 628.6H113M103.6 654.5H113M103.6 680.3H113M103.6 706.2H113M103.6 732H113M103.6 757.9H113M103.6 783.7H113M103.6 809.6H113M103.6 835.4H113M103.6 861.3H113M103.6 887.1H113M103.6 913H113M103.6 938.8H113M103.6 964.7H113M103.6 990.5H113M103.6 1016.4H113M103.6 1042.2H113M103.6 1068.1H113M127.9 1081V1091.5M157.6 1081V1091.5M187.4 1081V1091.5M217.1 1081V1091.5M246.9 1081V1091.5M276.7 1081V1091.5M306.4 1081V1091.5M336.2 1081V1091.5M365.9 1081V1091.5M395.7 1081V1091.5M425.4 1081V1091.5M455.2 1081V1091.5M484.9 1081V1091.5M514.7 1081V1091.5M544.4 1081V1091.5M574.2 1081V1091.5M604 1081V1091.5M633.7 1081V1091.5M663.5 1081V1091.5M693.2 1081V1091.5M723 1081V1091.5M752.7 1081V1091.5M782.5 1081V1091.5M812.2 1081V1091.5M842 1081V1091.5M871.8 1081V1091.5M901.5 1081V1091.5M931.3 1081V1091.5M961 1081V1091.5M990.8 1081V1091.5M1020.5 1081V1091.5M1050.3 1081V1091.5M1080 1081V1091.5M1109.8 1081V1091.5M1139.5 1081V1091.5M1169.3 1081V1091.5M1199.1 1081V1091.5M1228.8 1081V1091.5M1258.6 1081V1091.5M1288.3 1081V1091.5" stroke="#262626" stroke-width="2.7" fill="none"/>
<defs><linearGradient id="ga" x1="0" y1="0" x2="0" y2="1"><stop offset="0%" stop-color="#08306b"/><stop offset="3.1%" stop-color="#083776"/><stop offset="6.2%" stop-color="#084082"/><stop offset="9.4%" stop-color="#08488e"/><stop offset="12.5%" stop-color="#08509b"/><stop offset="15.6%" stop-color="#0e58a2"/><stop offset="18.8%" stop-color="#1460a8"/><stop offset="21.9%" stop-color="#1a68ae"/><stop offset="25%" stop-color="#2070b4"/><stop offset="28.1%" stop-color="#2979b9"/><stop offset="31.2%" stop-color="#3181bd"/><stop offset="34.4%" stop-color="#3989c1"/><stop offset="37.5%" stop-color="#4191c6"/><stop offset="40.6%" stop-color="#4b98ca"/><stop offset="43.8%" stop-color="#56a0ce"/><stop offset="46.9%" stop-color="#60a7d2"/><stop offset="50%" stop-color="#6aaed6"/><stop offset="53.1%" stop-color="#77b5d9"/><stop offset="56.2%" stop-color="#84bcdb"/><stop offset="59.4%" stop-color="#91c3de"/><stop offset="62.5%" stop-color="#9dcae1"/><stop offset="65.6%" stop-color="#a8cee4"/><stop offset="68.8%" stop-color="#b2d2e8"/><stop offset="71.9%" stop-color="#bcd7eb"/><stop offset="75%" stop-color="#c6dbef"/><stop offset="78.1%" stop-color="#ccdff1"/><stop offset="81.2%" stop-color="#d2e3f3"/><stop offset="84.4%" stop-color="#d8e7f5"/><stop offset="87.5%" stop-color="#deebf7"/><stop offset="90.6%" stop-color="#e4eff9"/><stop offset="93.8%" stop-color="#eaf3fb"/><stop offset="96.9%" stop-color="#f1f7fd"/><stop offset="100%" stop-color="#f7fbff"/></linearGradient></defs>
<rect x="1378.5" y="47" width="51" height="1034" fill="url(#ga)"/>
<path d="M1429.5 1081.3h9.6M1429.5 914.5h9.6M1429.5 747.8h9.6M1429.5 581h9.6M1429.5 414.2h9.6M1429.5 247.4h9.6M1429.5 80.7h9.6" stroke="#262626" stroke-width="2.7" fill="none"/>
<rect x="98.5" y="1357.6" width="1188.2" height="1031" fill="#f7fbff"/>
<rect x="98.5" y="1357.6" width="29.7" height="25.8" fill="#3787c0"/>
<rect x="157.9" y="1357.6" width="29.7" height="25.8" fill="#f4f9fe"/>
<rect x="336.1" y="1357.6" width="29.7" height="25.8" fill="#f4f9fe"/>
<rect x="603.5" y="1357.6" width="29.7" height="25.8" fill="#f1f7fd"/>
<rect x="633.2" y="1357.6" width="29.7" height="25.8" fill="#eaf2fb"/>
<rect x="692.6" y="1357.6" width="29.7" height="25.8" fill="#f4f9fe"/>
<rect x="722.3" y="1357.6" width="29.7" height="25.8" fill="#caddf0"/>
<rect x="1138.2" y="1357.6" width="29.7" height="25.8" fill="#f4f9fe"/>
<rect x="98.5" y="1383.4" width="29.7" height="25.8" fill="#f4f9fe"/>
<rect x="128.2" y="1383.4" width="29.7" height="25.8" fill="#3b8bc2"/>
<rect x="336.1" y="1383.4" width="29.7" height="25.8" fill="#c6dbef"/>
<rect x="425.3" y="1383.4" width="29.7" height="25.8" fill="#f4f9fe"/>
<rect x="603.5" y="1383.4" width="29.7" height="25.8" fill="#e7f0fa"/>
<rect x="870.8" y="1383.4" width="29.7" height="25.8" fill="#eef5fc"/>
<rect x="157.9" y="1409.1" width="29.7" height="25.8" fill="#083877"/>
<rect x="455" y="1409.1" width="29.7" height="25.8" fill="#f1f7fd"/>
<rect x="841.1" y="1409.1" width="29.7" height="25.8" fill="#eaf2fb"/>
<rect x="187.6" y="1434.9" width="29.7" height="25.8" fill="#3787c0"/>
<rect x="247" y="1434.9" width="29.7" height="25.8" fill="#f4f9fe"/>
<rect x="336.1" y="1434.9" width="29.7" height="25.8" fill="#f4f9fe"/>
<rect x="395.6" y="1434.9" width="29.7" height="25.8" fill="#f4f9fe"/>
<rect x="425.3" y="1434.9" width="29.7" height="25.8" fill="#f1f7fd"/>
<rect x="603.5" y="1434.9" width="29.7" height="25.8" fill="#f4f9fe"/>
<rect x="662.9" y="1434.9" width="29.7" height="25.8" fill="#d6e6f4"/>
<rect x="1049.1" y="1434.9" width="29.7" height="25.8" fill="#dceaf6"/>
<rect x="217.3" y="1460.7" width="29.7" height="25.8" fill="#7fb9da"/>
<rect x="425.3" y="1460.7" width="29.7" height="25.8" fill="#f4f9fe"/>
<rect x="484.7" y="1460.7" width="29.7" height="25.8" fill="#eaf2fb"/>
<rect x="544.1" y="1460.7" width="29.7" height="25.8" fill="#eaf2fb"/>
<rect x="841.1" y="1460.7" width="29.7" height="25.8" fill="#dceaf6"/>
<rect x="930.2" y="1460.7" width="29.7" height="25.8" fill="#f4f9fe"/>
<rect x="1108.5" y="1460.7" width="29.7" height="25.8" fill="#f1f7fd"/>
<rect x="1167.9" y="1460.7" width="29.7" height="25.8" fill="#eef5fc"/>
<rect x="1227.3" y="1460.7" width="29.7" height="25.8" fill="#eef5fc"/>
<rect x="1257" y="1460.7" width="29.7" height="25.8" fill="#d3e4f3"/>
<rect x="247" y="1486.5" width="29.7" height="25.8" fill="#1764ab"/>
<rect x="425.3" y="1486.5" width="29.7" height="25.8" fill="#f4f9fe"/>
<rect x="633.2" y="1486.5" width="29.7" height="25.8" fill="#e3eef9"/>
<rect x="722.3" y="1486.5" width="29.7" height="25.8" fill="#d9e8f5"/>
<rect x="128.2" y="1512.2" width="29.7" height="25.8" fill="#cddff1"/>
<rect x="217.3" y="1512.2" width="29.7" height="25.8" fill="#f4f9fe"/>
<rect x="276.7" y="1512.2" width="29.7" height="25.8" fill="#87bddc"/>
<rect x="365.8" y="1512.2" width="29.7" height="25.8" fill="#f4f9fe"/>
<rect x="395.6" y="1512.2" width="29.7" height="25.8" fill="#e0ecf8"/>
<rect x="811.4" y="1512.2" width="29.7" height="25.8" fill="#f4f9fe"/>
<rect x="989.7" y="1512.2" width="29.7" height="25.8" fill="#f1f7fd"/>
<rect x="1108.5" y="1512.2" width="29.7" height="25.8" fill="#f4f9fe"/>
<rect x="1167.9" y="1512.2" width="29.7" height="25.8" fill="#e0ecf8"/>
<rect x="1227.3" y="1512.2" width="29.7" height="25.8" fill="#f4f9fe"/>
<rect x="1257" y="1512.2" width="29.7" height="25.8" fill="#eaf2fb"/>
<rect x="247" y="1538" width="29.7" height="25.8" fill="#f1f7fd"/>
<rect x="306.4" y="1538" width="29.7" height="25.8" fill="#084a91"/>
<rect x="425.3" y="1538" width="29.7" height="25.8" fill="#f4f9fe"/>
<rect x="633.2" y="1538" width="29.7" height="25.8" fill="#f4f9fe"/>
<rect x="692.6" y="1538" width="29.7" height="25.8" fill="#f4f9fe"/>
<rect x="811.4" y="1538" width="29.7" height="25.8" fill="#f4f9fe"/>
<rect x="841.1" y="1538" width="29.7" height="25.8" fill="#f4f9fe"/>
<rect x="900.5" y="1538" width="29.7" height="25.8" fill="#eef5fc"/>
<rect x="217.3" y="1563.8" width="29.7" height="25.8" fill="#f4f9fe"/>
<rect x="247" y="1563.8" width="29.7" height="25.8" fill="#f4f9fe"/>
<rect x="336.1" y="1563.8" width="29.7" height="25.8" fill="#084a91"/>
<rect x="603.5" y="1563.8" width="29.7" height="25.8" fill="#e7f0fa"/>
<rect x="811.4" y="1563.8" width="29.7" height="25.8" fill="#f4f9fe"/>
<rect x="1138.2" y="1563.8" width="29.7" height="25.8" fill="#f1f7fd"/>
<rect x="128.2" y="1589.6" width="29.7" height="25.8" fill="#eaf2fb"/>
<rect x="217.3" y="1589.6" width="29.7" height="25.8" fill="#eef5fc"/>
<rect x="336.1" y="1589.6" width="29.7" height="25.8" fill="#f1f7fd"/>
<rect x="365.8" y="1589.6" width="29.7" height="25.8" fill="#65aad4"/>
<rect x="425.3" y="1589.6" width="29.7" height="25.8" fill="#f4f9fe"/>
<rect x="633.2" y="1589.6" width="29.7" height="25.8" fill="#f4f9fe"/>
<rect x="781.7" y="1589.6" width="29.7" height="25.8" fill="#f1f7fd"/>
<rect x="811.4" y="1589.6" width="29.7" height="25.8" fill="#eef5fc"/>
<rect x="870.8" y="1589.6" width="29.7" height="25.8" fill="#d0e1f2"/>
<rect x="989.7" y="1589.6" width="29.7" height="25.8" fill="#f4f9fe"/>
<rect x="1108.5" y="1589.6" width="29.7" height="25.8" fill="#f1f7fd"/>
<rect x="1167.9" y="1589.6" width="29.7" height="25.8" fill="#f4f9fe"/>
<rect x="1257" y="1589.6" width="29.7" height="25.8" fill="#f4f9fe"/>
<rect x="128.2" y="1615.3" width="29.7" height="25.8" fill="#f4f9fe"/>
<rect x="395.6" y="1615.3" width="29.7" height="25.8" fill="#3383be"/>
<rect x="425.3" y="1615.3" width="29.7" height="25.8" fill="#e3eef9"/>
<rect x="662.9" y="1615.3" width="29.7" height="25.8" fill="#dceaf6"/>
<rect x="1049.1" y="1615.3" width="29.7" height="25.8" fill="#f4f9fe"/>
<rect x="1257" y="1615.3" width="29.7" height="25.8" fill="#e0ecf8"/>
<rect x="365.8" y="1641.1" width="29.7" height="25.8" fill="#f4f9fe"/>
<rect x="395.6" y="1641.1" width="29.7" height="25.8" fill="#f4f9fe"/>
<rect x="425.3" y="1641.1" width="29.7" height="25.8" fill="#08306b"/>
<rect x="870.8" y="1641.1" width="29.7" height="25.8" fill="#f1f7fd"/>
<rect x="336.1" y="1666.9" width="29.7" height="25.8" fill="#eef5fc"/>
<rect x="455" y="1666.9" width="29.7" height="25.8" fill="#1764ab"/>
<rect x="603.5" y="1666.9" width="29.7" height="25.8" fill="#f4f9fe"/>
<rect x="633.2" y="1666.9" width="29.7" height="25.8" fill="#eaf2fb"/>
<rect x="722.3" y="1666.9" width="29.7" height="25.8" fill="#e3eef9"/>
<rect x="841.1" y="1666.9" width="29.7" height="25.8" fill="#f4f9fe"/>
<rect x="1167.9" y="1666.9" width="29.7" height="25.8" fill="#f4f9fe"/>
<rect x="217.3" y="1692.7" width="29.7" height="25.8" fill="#eef5fc"/>
<rect x="484.7" y="1692.7" width="29.7" height="25.8" fill="#abd0e6"/>
<rect x="544.1" y="1692.7" width="29.7" height="25.8" fill="#eaf2fb"/>
<rect x="870.8" y="1692.7" width="29.7" height="25.8" fill="#d9e8f5"/>
<rect x="930.2" y="1692.7" width="29.7" height="25.8" fill="#d0e1f2"/>
<rect x="1167.9" y="1692.7" width="29.7" height="25.8" fill="#d0e1f2"/>
<rect x="1227.3" y="1692.7" width="29.7" height="25.8" fill="#f1f7fd"/>
<rect x="1257" y="1692.7" width="29.7" height="25.8" fill="#f1f7fd"/>
<rect x="128.2" y="1718.4" width="29.7" height="25.8" fill="#f4f9fe"/>
<rect x="395.6" y="1718.4" width="29.7" height="25.8" fill="#d3e4f3"/>
<rect x="425.3" y="1718.4" width="29.7" height="25.8" fill="#f1f7fd"/>
<rect x="514.4" y="1718.4" width="29.7" height="25.8" fill="#72b2d8"/>
<rect x="662.9" y="1718.4" width="29.7" height="25.8" fill="#f4f9fe"/>
<rect x="811.4" y="1718.4" width="29.7" height="25.8" fill="#f4f9fe"/>
<rect x="870.8" y="1718.4" width="29.7" height="25.8" fill="#f4f9fe"/>
<rect x="1078.8" y="1718.4" width="29.7" height="25.8" fill="#e7f0fa"/>
<rect x="1108.5" y="1718.4" width="29.7" height="25.8" fill="#dceaf6"/>
<rect x="1138.2" y="1718.4" width="29.7" height="25.8" fill="#eef5fc"/>
<rect x="1257" y="1718.4" width="29.7" height="25.8" fill="#f1f7fd"/>
<rect x="128.2" y="1744.2" width="29.7" height="25.8" fill="#f4f9fe"/>
<rect x="157.9" y="1744.2" width="29.7" height="25.8" fill="#f1f7fd"/>
<rect x="217.3" y="1744.2" width="29.7" height="25.8" fill="#caddf0"/>
<rect x="247" y="1744.2" width="29.7" height="25.8" fill="#f4f9fe"/>
<rect x="365.8" y="1744.2" width="29.7" height="25.8" fill="#eaf2fb"/>
<rect x="425.3" y="1744.2" width="29.7" height="25.8" fill="#f1f7fd"/>
<rect x="544.1" y="1744.2" width="29.7" height="25.8" fill="#60a7d2"/>
<rect x="870.8" y="1744.2" width="29.7" height="25.8" fill="#f4f9fe"/>
<rect x="989.7" y="1744.2" width="29.7" height="25.8" fill="#f4f9fe"/>
<rect x="1167.9" y="1744.2" width="29.7" height="25.8" fill="#eef5fc"/>
<rect x="1227.3" y="1744.2" width="29.7" height="25.8" fill="#f4f9fe"/>
<rect x="1257" y="1744.2" width="29.7" height="25.8" fill="#f1f7fd"/>
<rect x="157.9" y="1770" width="29.7" height="25.8" fill="#f1f7fd"/>
<rect x="247" y="1770" width="29.7" height="25.8" fill="#f4f9fe"/>
<rect x="425.3" y="1770" width="29.7" height="25.8" fill="#eaf2fb"/>
<rect x="573.8" y="1770" width="29.7" height="25.8" fill="#cddff1"/>
<rect x="633.2" y="1770" width="29.7" height="25.8" fill="#f4f9fe"/>
<rect x="662.9" y="1770" width="29.7" height="25.8" fill="#f4f9fe"/>
<rect x="692.6" y="1770" width="29.7" height="25.8" fill="#e3eef9"/>
<rect x="752" y="1770" width="29.7" height="25.8" fill="#f4f9fe"/>
<rect x="900.5" y="1770" width="29.7" height="25.8" fill="#79b5d9"/>
<rect x="1138.2" y="1770" width="29.7" height="25.8" fill="#e7f0fa"/>
<rect x="1257" y="1770" width="29.7" height="25.8" fill="#f1f7fd"/>
<rect x="98.5" y="1795.8" width="29.7" height="25.8" fill="#e3eef9"/>
<rect x="247" y="1795.8" width="29.7" height="25.8" fill="#f1f7fd"/>
<rect x="306.4" y="1795.8" width="29.7" height="25.8" fill="#f4f9fe"/>
<rect x="336.1" y="1795.8" width="29.7" height="25.8" fill="#f1f7fd"/>
<rect x="425.3" y="1795.8" width="29.7" height="25.8" fill="#f1f7fd"/>
<rect x="603.5" y="1795.8" width="29.7" height="25.8" fill="#3787c0"/>
<rect x="722.3" y="1795.8" width="29.7" height="25.8" fill="#eaf2fb"/>
<rect x="811.4" y="1795.8" width="29.7" height="25.8" fill="#f1f7fd"/>
<rect x="1078.8" y="1795.8" width="29.7" height="25.8" fill="#eef5fc"/>
<rect x="1167.9" y="1795.8" width="29.7" height="25.8" fill="#f1f7fd"/>
<rect x="98.5" y="1821.5" width="29.7" height="25.8" fill="#eef5fc"/>
<rect x="157.9" y="1821.5" width="29.7" height="25.8" fill="#e7f0fa"/>
<rect x="247" y="1821.5" width="29.7" height="25.8" fill="#f4f9fe"/>
<rect x="336.1" y="1821.5" width="29.7" height="25.8" fill="#cddff1"/>
<rect x="365.8" y="1821.5" width="29.7" height="25.8" fill="#f4f9fe"/>
<rect x="455" y="1821.5" width="29.7" height="25.8" fill="#e0ecf8"/>
<rect x="633.2" y="1821.5" width="29.7" height="25.8" fill="#79b5d9"/>
<rect x="722.3" y="1821.5" width="29.7" height="25.8" fill="#f4f9fe"/>
<rect x="811.4" y="1821.5" width="29.7" height="25.8" fill="#f4f9fe"/>
<rect x="930.2" y="1821.5" width="29.7" height="25.8" fill="#f4f9fe"/>
<rect x="1138.2" y="1821.5" width="29.7" height="25.8" fill="#f1f7fd"/>
<rect x="1197.6" y="1821.5" width="29.7" height="25.8" fill="#f4f9fe"/>
<rect x="128.2" y="1847.3" width="29.7" height="25.8" fill="#eef5fc"/>
<rect x="187.6" y="1847.3" width="29.7" height="25.8" fill="#e0ecf8"/>
<rect x="247" y="1847.3" width="29.7" height="25.8" fill="#e0ecf8"/>
<rect x="336.1" y="1847.3" width="29.7" height="25.8" fill="#f4f9fe"/>
<rect x="425.3" y="1847.3" width="29.7" height="25.8" fill="#f4f9fe"/>
<rect x="662.9" y="1847.3" width="29.7" height="25.8" fill="#3f8fc5"/>
<rect x="1049.1" y="1847.3" width="29.7" height="25.8" fill="#f4f9fe"/>
<rect x="1257" y="1847.3" width="29.7" height="25.8" fill="#e3eef9"/>
<rect x="157.9" y="1873.1" width="29.7" height="25.8" fill="#f1f7fd"/>
<rect x="425.3" y="1873.1" width="29.7" height="25.8" fill="#eef5fc"/>
<rect x="573.8" y="1873.1" width="29.7" height="25.8" fill="#f4f9fe"/>
<rect x="692.6" y="1873.1" width="29.7" height="25.8" fill="#b0d2e7"/>
<rect x="722.3" y="1873.1" width="29.7" height="25.8" fill="#f4f9fe"/>
<rect x="900.5" y="1873.1" width="29.7" height="25.8" fill="#4a98c9"/>
<rect x="1257" y="1873.1" width="29.7" height="25.8" fill="#f1f7fd"/>
<rect x="128.2" y="1898.9" width="29.7" height="25.8" fill="#f1f7fd"/>
<rect x="157.9" y="1898.9" width="29.7" height="25.8" fill="#f4f9fe"/>
<rect x="395.6" y="1898.9" width="29.7" height="25.8" fill="#f4f9fe"/>
<rect x="455" y="1898.9" width="29.7" height="25.8" fill="#eaf2fb"/>
<rect x="514.4" y="1898.9" width="29.7" height="25.8" fill="#f4f9fe"/>
<rect x="633.2" y="1898.9" width="29.7" height="25.8" fill="#d6e6f4"/>
<rect x="722.3" y="1898.9" width="29.7" height="25.8" fill="#2575b7"/>
<rect x="900.5" y="1898.9" width="29.7" height="25.8" fill="#f4f9fe"/>
<rect x="306.4" y="1924.6" width="29.7" height="25.8" fill="#f1f7fd"/>
<rect x="395.6" y="1924.6" width="29.7" height="25.8" fill="#e7f0fa"/>
<rect x="425.3" y="1924.6" width="29.7" height="25.8" fill="#eef5fc"/>
<rect x="514.4" y="1924.6" width="29.7" height="25.8" fill="#eef5fc"/>
<rect x="633.2" y="1924.6" width="29.7" height="25.8" fill="#f4f9fe"/>
<rect x="752" y="1924.6" width="29.7" height="25.8" fill="#87bddc"/>
<rect x="900.5" y="1924.6" width="29.7" height="25.8" fill="#e3eef9"/>
<rect x="1049.1" y="1924.6" width="29.7" height="25.8" fill="#e3eef9"/>
<rect x="1078.8" y="1924.6" width="29.7" height="25.8" fill="#eef5fc"/>
<rect x="1138.2" y="1924.6" width="29.7" height="25.8" fill="#eef5fc"/>
<rect x="1197.6" y="1924.6" width="29.7" height="25.8" fill="#e3eef9"/>
<rect x="98.5" y="1950.4" width="29.7" height="25.8" fill="#eef5fc"/>
<rect x="128.2" y="1950.4" width="29.7" height="25.8" fill="#e7f0fa"/>
<rect x="247" y="1950.4" width="29.7" height="25.8" fill="#f1f7fd"/>
<rect x="336.1" y="1950.4" width="29.7" height="25.8" fill="#eaf2fb"/>
<rect x="365.8" y="1950.4" width="29.7" height="25.8" fill="#d6e6f4"/>
<rect x="425.3" y="1950.4" width="29.7" height="25.8" fill="#dceaf6"/>
<rect x="633.2" y="1950.4" width="29.7" height="25.8" fill="#eaf2fb"/>
<rect x="781.7" y="1950.4" width="29.7" height="25.8" fill="#abd0e6"/>
<rect x="811.4" y="1950.4" width="29.7" height="25.8" fill="#e7f0fa"/>
<rect x="870.8" y="1950.4" width="29.7" height="25.8" fill="#f1f7fd"/>
<rect x="1257" y="1950.4" width="29.7" height="25.8" fill="#f4f9fe"/>
<rect x="217.3" y="1976.2" width="29.7" height="25.8" fill="#e3eef9"/>
<rect x="336.1" y="1976.2" width="29.7" height="25.8" fill="#f4f9fe"/>
<rect x="395.6" y="1976.2" width="29.7" height="25.8" fill="#f4f9fe"/>
<rect x="425.3" y="1976.2" width="29.7" height="25.8" fill="#f4f9fe"/>
<rect x="662.9" y="1976.2" width="29.7" height="25.8" fill="#e7f0fa"/>
<rect x="811.4" y="1976.2" width="29.7" height="25.8" fill="#549fcd"/>
<rect x="930.2" y="1976.2" width="29.7" height="25.8" fill="#c6dbef"/>
<rect x="1167.9" y="1976.2" width="29.7" height="25.8" fill="#f4f9fe"/>
<rect x="336.1" y="2002" width="29.7" height="25.8" fill="#f4f9fe"/>
<rect x="455" y="2002" width="29.7" height="25.8" fill="#f4f9fe"/>
<rect x="841.1" y="2002" width="29.7" height="25.8" fill="#084285"/>
<rect x="930.2" y="2002" width="29.7" height="25.8" fill="#f4f9fe"/>
<rect x="1167.9" y="2002" width="29.7" height="25.8" fill="#e7f0fa"/>
<rect x="128.2" y="2027.8" width="29.7" height="25.8" fill="#f4f9fe"/>
<rect x="217.3" y="2027.8" width="29.7" height="25.8" fill="#dceaf6"/>
<rect x="365.8" y="2027.8" width="29.7" height="25.8" fill="#eef5fc"/>
<rect x="425.3" y="2027.8" width="29.7" height="25.8" fill="#d3e4f3"/>
<rect x="870.8" y="2027.8" width="29.7" height="25.8" fill="#3b8bc2"/>
<rect x="989.7" y="2027.8" width="29.7" height="25.8" fill="#f1f7fd"/>
<rect x="128.2" y="2053.5" width="29.7" height="25.8" fill="#f1f7fd"/>
<rect x="157.9" y="2053.5" width="29.7" height="25.8" fill="#f4f9fe"/>
<rect x="425.3" y="2053.5" width="29.7" height="25.8" fill="#e7f0fa"/>
<rect x="573.8" y="2053.5" width="29.7" height="25.8" fill="#eaf2fb"/>
<rect x="722.3" y="2053.5" width="29.7" height="25.8" fill="#f4f9fe"/>
<rect x="900.5" y="2053.5" width="29.7" height="25.8" fill="#1d6cb1"/>
<rect x="1108.5" y="2053.5" width="29.7" height="25.8" fill="#f1f7fd"/>
<rect x="1257" y="2053.5" width="29.7" height="25.8" fill="#eef5fc"/>
<rect x="98.5" y="2079.3" width="29.7" height="25.8" fill="#f4f9fe"/>
<rect x="217.3" y="2079.3" width="29.7" height="25.8" fill="#c6dbef"/>
<rect x="336.1" y="2079.3" width="29.7" height="25.8" fill="#f4f9fe"/>
<rect x="425.3" y="2079.3" width="29.7" height="25.8" fill="#f4f9fe"/>
<rect x="811.4" y="2079.3" width="29.7" height="25.8" fill="#dceaf6"/>
<rect x="930.2" y="2079.3" width="29.7" height="25.8" fill="#4f9bcb"/>
<rect x="1167.9" y="2079.3" width="29.7" height="25.8" fill="#f4f9fe"/>
<rect x="1227.3" y="2079.3" width="29.7" height="25.8" fill="#f4f9fe"/>
<rect x="1257" y="2079.3" width="29.7" height="25.8" fill="#f4f9fe"/>
<rect x="128.2" y="2105.1" width="29.7" height="25.8" fill="#f4f9fe"/>
<rect x="306.4" y="2105.1" width="29.7" height="25.8" fill="#f1f7fd"/>
<rect x="425.3" y="2105.1" width="29.7" height="25.8" fill="#dceaf6"/>
<rect x="484.7" y="2105.1" width="29.7" height="25.8" fill="#f4f9fe"/>
<rect x="573.8" y="2105.1" width="29.7" height="25.8" fill="#eaf2fb"/>
<rect x="692.6" y="2105.1" width="29.7" height="25.8" fill="#d9e8f5"/>
<rect x="722.3" y="2105.1" width="29.7" height="25.8" fill="#f1f7fd"/>
<rect x="900.5" y="2105.1" width="29.7" height="25.8" fill="#e3eef9"/>
<rect x="959.9" y="2105.1" width="29.7" height="25.8" fill="#caddf0"/>
<rect x="1049.1" y="2105.1" width="29.7" height="25.8" fill="#f4f9fe"/>
<rect x="1078.8" y="2105.1" width="29.7" height="25.8" fill="#f4f9fe"/>
<rect x="1108.5" y="2105.1" width="29.7" height="25.8" fill="#f1f7fd"/>
<rect x="1138.2" y="2105.1" width="29.7" height="25.8" fill="#cddff1"/>
<rect x="217.3" y="2130.8" width="29.7" height="25.8" fill="#f1f7fd"/>
<rect x="247" y="2130.8" width="29.7" height="25.8" fill="#eef5fc"/>
<rect x="455" y="2130.8" width="29.7" height="25.8" fill="#f1f7fd"/>
<rect x="603.5" y="2130.8" width="29.7" height="25.8" fill="#f4f9fe"/>
<rect x="722.3" y="2130.8" width="29.7" height="25.8" fill="#f4f9fe"/>
<rect x="989.7" y="2130.8" width="29.7" height="25.8" fill="#2e7ebc"/>
<rect x="1167.9" y="2130.8" width="29.7" height="25.8" fill="#d0e1f2"/>
<rect x="1257" y="2130.8" width="29.7" height="25.8" fill="#f4f9fe"/>
<rect x="128.2" y="2156.6" width="29.7" height="25.8" fill="#f4f9fe"/>
<rect x="217.3" y="2156.6" width="29.7" height="25.8" fill="#a1cbe2"/>
<rect x="247" y="2156.6" width="29.7" height="25.8" fill="#f1f7fd"/>
<rect x="336.1" y="2156.6" width="29.7" height="25.8" fill="#f4f9fe"/>
<rect x="395.6" y="2156.6" width="29.7" height="25.8" fill="#f4f9fe"/>
<rect x="425.3" y="2156.6" width="29.7" height="25.8" fill="#f4f9fe"/>
<rect x="484.7" y="2156.6" width="29.7" height="25.8" fill="#f4f9fe"/>
<rect x="811.4" y="2156.6" width="29.7" height="25.8" fill="#f1f7fd"/>
<rect x="930.2" y="2156.6" width="29.7" height="25.8" fill="#f4f9fe"/>
<rect x="1019.4" y="2156.6" width="29.7" height="25.8" fill="#65aad4"/>
<rect x="1167.9" y="2156.6" width="29.7" height="25.8" fill="#f4f9fe"/>
<rect x="98.5" y="2182.4" width="29.7" height="25.8" fill="#f4f9fe"/>
<rect x="187.6" y="2182.4" width="29.7" height="25.8" fill="#d9e8f5"/>
<rect x="247" y="2182.4" width="29.7" height="25.8" fill="#f1f7fd"/>
<rect x="306.4" y="2182.4" width="29.7" height="25.8" fill="#d9e8f5"/>
<rect x="425.3" y="2182.4" width="29.7" height="25.8" fill="#f4f9fe"/>
<rect x="662.9" y="2182.4" width="29.7" height="25.8" fill="#dceaf6"/>
<rect x="752" y="2182.4" width="29.7" height="25.8" fill="#f1f7fd"/>
<rect x="900.5" y="2182.4" width="29.7" height="25.8" fill="#f4f9fe"/>
<rect x="1049.1" y="2182.4" width="29.7" height="25.8" fill="#65aad4"/>
<rect x="98.5" y="2208.2" width="29.7" height="25.8" fill="#f4f9fe"/>
<rect x="128.2" y="2208.2" width="29.7" height="25.8" fill="#f4f9fe"/>
<rect x="247" y="2208.2" width="29.7" height="25.8" fill="#f4f9fe"/>
<rect x="276.7" y="2208.2" width="29.7" height="25.8" fill="#f4f9fe"/>
<rect x="425.3" y="2208.2" width="29.7" height="25.8" fill="#e7f0fa"/>
<rect x="514.4" y="2208.2" width="29.7" height="25.8" fill="#eaf2fb"/>
<rect x="752" y="2208.2" width="29.7" height="25.8" fill="#f4f9fe"/>
<rect x="959.9" y="2208.2" width="29.7" height="25.8" fill="#e0ecf8"/>
<rect x="1049.1" y="2208.2" width="29.7" height="25.8" fill="#eaf2fb"/>
<rect x="1078.8" y="2208.2" width="29.7" height="25.8" fill="#a6cee4"/>
<rect x="1108.5" y="2208.2" width="29.7" height="25.8" fill="#e3eef9"/>
<rect x="1138.2" y="2208.2" width="29.7" height="25.8" fill="#d3e4f3"/>
<rect x="1197.6" y="2208.2" width="29.7" height="25.8" fill="#f4f9fe"/>
<rect x="336.1" y="2233.9" width="29.7" height="25.8" fill="#f4f9fe"/>
<rect x="365.8" y="2233.9" width="29.7" height="25.8" fill="#f1f7fd"/>
<rect x="395.6" y="2233.9" width="29.7" height="25.8" fill="#f4f9fe"/>
<rect x="425.3" y="2233.9" width="29.7" height="25.8" fill="#eef5fc"/>
<rect x="959.9" y="2233.9" width="29.7" height="25.8" fill="#f4f9fe"/>
<rect x="1078.8" y="2233.9" width="29.7" height="25.8" fill="#eef5fc"/>
<rect x="1108.5" y="2233.9" width="29.7" height="25.8" fill="#60a7d2"/>
<rect x="1138.2" y="2233.9" width="29.7" height="25.8" fill="#a6cee4"/>
<rect x="128.2" y="2259.7" width="29.7" height="25.8" fill="#eef5fc"/>
<rect x="425.3" y="2259.7" width="29.7" height="25.8" fill="#f4f9fe"/>
<rect x="573.8" y="2259.7" width="29.7" height="25.8" fill="#f4f9fe"/>
<rect x="692.6" y="2259.7" width="29.7" height="25.8" fill="#d0e1f2"/>
<rect x="752" y="2259.7" width="29.7" height="25.8" fill="#f4f9fe"/>
<rect x="1138.2" y="2259.7" width="29.7" height="25.8" fill="#1d6cb1"/>
<rect x="247" y="2285.5" width="29.7" height="25.8" fill="#f1f7fd"/>
<rect x="336.1" y="2285.5" width="29.7" height="25.8" fill="#caddf0"/>
<rect x="455" y="2285.5" width="29.7" height="25.8" fill="#f4f9fe"/>
<rect x="603.5" y="2285.5" width="29.7" height="25.8" fill="#f4f9fe"/>
<rect x="1167.9" y="2285.5" width="29.7" height="25.8" fill="#1d6cb1"/>
<rect x="128.2" y="2311.3" width="29.7" height="25.8" fill="#f1f7fd"/>
<rect x="187.6" y="2311.3" width="29.7" height="25.8" fill="#eaf2fb"/>
<rect x="247" y="2311.3" width="29.7" height="25.8" fill="#e3eef9"/>
<rect x="306.4" y="2311.3" width="29.7" height="25.8" fill="#f1f7fd"/>
<rect x="336.1" y="2311.3" width="29.7" height="25.8" fill="#e7f0fa"/>
<rect x="514.4" y="2311.3" width="29.7" height="25.8" fill="#eaf2fb"/>
<rect x="662.9" y="2311.3" width="29.7" height="25.8" fill="#f4f9fe"/>
<rect x="811.4" y="2311.3" width="29.7" height="25.8" fill="#e0ecf8"/>
<rect x="1049.1" y="2311.3" width="29.7" height="25.8" fill="#f4f9fe"/>
<rect x="1138.2" y="2311.3" width="29.7" height="25.8" fill="#f1f7fd"/>
<rect x="1197.6" y="2311.3" width="29.7" height="25.8" fill="#6aaed6"/>
<rect x="157.9" y="2337" width="29.7" height="25.8" fill="#f4f9fe"/>
<rect x="217.3" y="2337" width="29.7" height="25.8" fill="#d9e8f5"/>
<rect x="247" y="2337" width="29.7" height="25.8" fill="#f4f9fe"/>
<rect x="365.8" y="2337" width="29.7" height="25.8" fill="#f1f7fd"/>
<rect x="425.3" y="2337" width="29.7" height="25.8" fill="#e7f0fa"/>
<rect x="544.1" y="2337" width="29.7" height="25.8" fill="#e0ecf8"/>
<rect x="1227.3" y="2337" width="29.7" height="25.8" fill="#3f8fc5"/>
<rect x="1257" y="2337" width="29.7" height="25.8" fill="#f4f9fe"/>
<rect x="306.4" y="2362.8" width="29.7" height="25.8" fill="#f4f9fe"/>
<rect x="395.6" y="2362.8" width="29.7" height="25.8" fill="#f1f7fd"/>
<rect x="662.9" y="2362.8" width="29.7" height="25.8" fill="#f4f9fe"/>
<rect x="989.7" y="2362.8" width="29.7" height="25.8" fill="#f1f7fd"/>
<rect x="1167.9" y="2362.8" width="29.7" height="25.8" fill="#a6cee4"/>
<rect x="1257" y="2362.8" width="29.7" height="25.8" fill="#4594c7"/>
<path d="M89.1 1370.5H98.5M89.1 1396.3H98.5M89.1 1422H98.5M89.1 1447.8H98.5M89.1 1473.6H98.5M89.1 1499.4H98.5M89.1 1525.1H98.5M89.1 1550.9H98.5M89.1 1576.7H98.5M89.1 1602.5H98.5M89.1 1628.2H98.5M89.1 1654H98.5M89.1 1679.8H98.5M89.1 1705.6H98.5M89.1 1731.3H98.5M89.1 1757.1H98.5M89.1 1782.9H98.5M89.1 1808.7H98.5M89.1 1834.4H98.5M89.1 1860.2H98.5M89.1 1886H98.5M89.1 1911.8H98.5M89.1 1937.5H98.5M89.1 1963.3H98.5M89.1 1989.1H98.5M89.1 2014.9H98.5M89.1 2040.6H98.5M89.1 2066.4H98.5M89.1 2092.2H98.5M89.1 2118H98.5M89.1 2143.7H98.5M89.1 2169.5H98.5M89.1 2195.3H98.5M89.1 2221.1H98.5M89.1 2246.8H98.5M89.1 2272.6H98.5M89.1 2298.4H98.5M89.1 2324.2H98.5M89.1 2349.9H98.5M89.1 2375.7H98.5M113.4 2389.4V2399.9M143.1 2389.4V2399.9M172.8 2389.4V2399.9M202.5 2389.4V2399.9M232.2 2389.4V2399.9M261.9 2389.4V2399.9M291.6 2389.4V2399.9M321.3 2389.4V2399.9M351 2389.4V2399.9M380.7 2389.4V2399.9M410.4 2389.4V2399.9M440.1 2389.4V2399.9M469.8 2389.4V2399.9M499.5 2389.4V2399.9M529.2 2389.4V2399.9M558.9 2389.4V2399.9M588.6 2389.4V2399.9M618.3 2389.4V2399.9M648 2389.4V2399.9M677.7 2389.4V2399.9M707.5 2389.4V2399.9M737.2 2389.4V2399.9M766.9 2389.4V2399.9M796.6 2389.4V2399.9M826.3 2389.4V2399.9M856 2389.4V2399.9M885.7 2389.4V2399.9M915.4 2389.4V2399.9M945.1 2389.4V2399.9M974.8 2389.4V2399.9M1004.5 2389.4V2399.9M1034.2 2389.4V2399.9M1063.9 2389.4V2399.9M1093.6 2389.4V2399.9M1123.3 2389.4V2399.9M1153 2389.4V2399.9M1182.7 2389.4V2399.9M1212.4 2389.4V2399.9M1242.1 2389.4V2399.9M1271.8 2389.4V2399.9" stroke="#262626" stroke-width="2.7" fill="none"/>
<defs><linearGradient id="gb" x1="0" y1="0" x2="0" y2="1"><stop offset="0%" stop-color="#08306b"/><stop offset="3.1%" stop-color="#083776"/><stop offset="6.2%" stop-color="#084082"/><stop offset="9.4%" stop-color="#08488e"/><stop offset="12.5%" stop-color="#08509b"/><stop offset="15.6%" stop-color="#0e58a2"/><stop offset="18.8%" stop-color="#1460a8"/><stop offset="21.9%" stop-color="#1a68ae"/><stop offset="25%" stop-color="#2070b4"/><stop offset="28.1%" stop-color="#2979b9"/><stop offset="31.2%" stop-color="#3181bd"/><stop offset="34.4%" stop-color="#3989c1"/><stop offset="37.5%" stop-color="#4191c6"/><stop offset="40.6%" stop-color="#4b98ca"/><stop offset="43.8%" stop-color="#56a0ce"/><stop offset="46.9%" stop-color="#60a7d2"/><stop offset="50%" stop-color="#6aaed6"/><stop offset="53.1%" stop-color="#77b5d9"/><stop offset="56.2%" stop-color="#84bcdb"/><stop offset="59.4%" stop-color="#91c3de"/><stop offset="62.5%" stop-color="#9dcae1"/><stop offset="65.6%" stop-color="#a8cee4"/><stop offset="68.8%" stop-color="#b2d2e8"/><stop offset="71.9%" stop-color="#bcd7eb"/><stop offset="75%" stop-color="#c6dbef"/><stop offset="78.1%" stop-color="#ccdff1"/><stop offset="81.2%" stop-color="#d2e3f3"/><stop offset="84.4%" stop-color="#d8e7f5"/><stop offset="87.5%" stop-color="#deebf7"/><stop offset="90.6%" stop-color="#e4eff9"/><stop offset="93.8%" stop-color="#eaf3fb"/><stop offset="96.9%" stop-color="#f1f7fd"/><stop offset="100%" stop-color="#f7fbff"/></linearGradient></defs>
<rect x="1361.5" y="1357.6" width="51.1" height="1031" fill="url(#gb)"/>
<path d="M1412.6 2389.9h9.6M1412.6 2218.1h9.6M1412.6 2046.2h9.6M1412.6 1874.4h9.6M1412.6 1702.6h9.6M1412.6 1530.7h9.6M1412.6 1358.9h9.6" stroke="#262626" stroke-width="2.7" fill="none"/>
</g>
<g filter="url(#bt)">
<g class="an" transform="scale(1.04 1)">
<g transform="translate(0 67.8)">
<text x="122.6" class="d">27</text><text x="152.8">3</text><text x="181.4">3</text><text x="210">2</text><text x="238.7">0</text><text x="267.3">0</text><text x="295.9">0</text><text x="324.5">0</text><text x="353.1">4</text><text x="381.7">0</text><text x="410.3">1</text><text x="438.9">0</text><text x="467.5">0</text><text x="496.1">0</text><text x="524.8">2</text><text x="553.4">0</text><text x="582">2</text><text x="610.6">2</text><text x="639.2">0</text><text x="667.8">0</text><text x="696.4">2</text><text x="725">7</text><text x="753.6">0</text><text x="782.3">2</text><text x="810.9">0</text><text x="839.5">0</text><text x="868.1">0</text><text x="896.7">0</text><text x="925.3">0</text><text x="953.9">0</text><text x="982.5">0</text><text x="1011.1">0</text><text x="1039.7">1</text><text x="1068.4">0</text><text x="1097">0</text><text x="1125.6">6</text><text x="1154.2">0</text><text x="1182.8">0</text><text x="1211.4">0</text><text x="1240">0</text>
</g>
<g transform="translate(0 93.7)">
<text x="124.2">0</text><text x="151.2" class="d">16</text><text x="181.4">1</text><text x="210">0</text><text x="238.7">0</text><text x="267.3">0</text><text x="295.9">0</text><text x="324.5">0</text><text x="351.5" class="d">15</text><text x="381.7">6</text><text x="410.3">0</text><text x="438.9">0</text><text x="467.5">0</text><text x="496.1">4</text><text x="524.8">0</text><text x="553.4">0</text><text x="582">0</text><text x="610.6">7</text><text x="639.2">6</text><text x="667.8">0</text><text x="696.4">0</text><text x="725">6</text><text x="753.6">0</text><text x="782.3">2</text><text x="810.9">0</text><text x="839.5">0</text><text x="868.1">1</text><text x="896.7">0</text><text x="925.3">0</text><text x="953.9">0</text><text x="982.5">0</text><text x="1011.1">0</text><text x="1039.7">0</text><text x="1068.4">0</text><text x="1097">0</text><text x="1125.6">0</text><text x="1154.2">0</text><text x="1182.8">0</text><text x="1211.4">0</text><text x="1240">0</text>
</g>
<g transform="translate(0 119.5)">
<text x="124.2">0</text><text x="152.8">0</text><text x="179.8" class="w d">62</text><text x="210">0</text><text x="238.7">0</text><text x="267.3">0</text><text x="295.9">0</text><text x="324.5">0</text><text x="353.1">0</text><text x="381.7">0</text><text x="410.3">0</text><text x="438.9">0</text><text x="467.5">0</text><text x="496.1">0</text><text x="524.8">0</text><text x="553.4">0</text><text x="582">0</text><text x="610.6">0</text><text x="639.2">0</text><text x="667.8">0</text><text x="696.4">0</text><text x="725">0</text><text x="753.6">0</text><text x="782.3">0</text><text x="810.9">0</text><text x="839.5">1</text><text x="868.1">0</text><text x="896.7">1</text><text x="925.3">0</text><text x="953.9">0</text><text x="982.5">0</text><text x="1011.1">0</text><text x="1039.7">0</text><text x="1068.4">0</text><text x="1097">0</text><text x="1125.6">0</text><text x="1154.2">0</text><text x="1182.8">0</text><text x="1211.4">0</text><text x="1240">0</text>
</g>
<g transform="translate(0 145.4)">
<text x="124.2">1</text><text x="152.8">0</text><text x="181.4">0</text><text x="208.4" class="w d">31</text><text x="238.7">0</text><text x="265.7" class="d">16</text><text x="295.9">0</text><text x="324.5">0</text><text x="353.1">1</text><text x="381.7">0</text><text x="410.3">0</text><text x="438.9">7</text><text x="467.5">0</text><text x="496.1">0</text><text x="524.8">0</text><text x="553.4">0</text><text x="582">0</text><text x="610.6">1</text><text x="639.2">0</text><text x="667.8">4</text><text x="696.4">0</text><text x="725">0</text><text x="753.6">0</text><text x="782.3">0</text><text x="810.9">0</text><text x="839.5">0</text><text x="868.1">0</text><text x="896.7">0</text><text x="925.3">0</text><text x="953.9">0</text><text x="982.5">0</text><text x="1011.1">0</text><text x="1039.7">0</text><text x="1068.4">0</text><text x="1097">0</text><text x="1125.6">0</text><text x="1154.2">0</text><text x="1182.8">0</text><text x="1211.4">0</text><text x="1240">3</text>
</g>
<g transform="translate(0 171.2)">
<text x="124.2">0</text><text x="152.8">3</text><text x="181.4">0</text><text x="210">0</text><text x="237" class="w d">31</text><text x="267.3">0</text><text x="295.9">0</text><text x="324.5">0</text><text x="353.1">0</text><text x="381.7">0</text><text x="410.3">0</text><text x="438.9">0</text><text x="467.5">0</text><text x="496.1">3</text><text x="524.8">0</text><text x="553.4">4</text><text x="582">0</text><text x="610.6">0</text><text x="639.2">0</text><text x="667.8">0</text><text x="696.4">0</text><text x="725">0</text><text x="753.6">0</text><text x="782.3">0</text><text x="810.9">0</text><text x="839.5">9</text><text x="868.1">2</text><text x="896.7">0</text><text x="925.3">1</text><text x="953.9">0</text><text x="982.5">5</text><text x="1011.1">0</text><text x="1039.7">0</text><text x="1068.4">0</text><text x="1097">0</text><text x="1125.6">0</text><text x="1154.2">2</text><text x="1182.8">0</text><text x="1211.4">0</text><text x="1240">4</text>
</g>
<g transform="translate(0 197.1)">
<text x="124.2">0</text><text x="152.8">0</text><text x="181.4">0</text><text x="210">0</text><text x="238.7">0</text><text x="265.7" class="w d">38</text><text x="295.9">0</text><text x="324.5">0</text><text x="353.1">0</text><text x="381.7">0</text><text x="410.3">0</text><text x="438.9">0</text><text x="467.5">0</text><text x="496.1">0</text><text x="524.8">0</text><text x="553.4">0</text><text x="582">0</text><text x="610.6">0</text><text x="637.6" class="d">14</text><text x="667.8">5</text><text x="696.4">0</text><text x="725">0</text><text x="753.6">0</text><text x="782.3">0</text><text x="810.9">0</text><text x="839.5">0</text><text x="868.1">0</text><text x="896.7">3</text><text x="925.3">0</text><text x="953.9">0</text><text x="982.5">1</text><text x="1011.1">0</text><text x="1039.7">0</text><text x="1068.4">0</text><text x="1097">0</text><text x="1125.6">0</text><text x="1154.2">2</text><text x="1182.8">0</text><text x="1211.4">0</text><text x="1240">1</text>
</g>
<g transform="translate(0 222.9)">
<text x="124.2">0</text><text x="151.2" class="d">13</text><text x="181.4">0</text><text x="210">0</text><text x="238.7">1</text><text x="267.3">0</text><text x="294.3" class="d">13</text><text x="324.5">0</text><text x="353.1">0</text><text x="381.7">3</text><text x="410.3">0</text><text x="438.9">0</text><text x="467.5">0</text><text x="496.1">6</text><text x="524.8">0</text><text x="553.4">0</text><text x="582">0</text><text x="610.6">0</text><text x="639.2">0</text><text x="667.8">0</text><text x="696.4">0</text><text x="725">1</text><text x="753.6">0</text><text x="782.3">0</text><text x="810.9">1</text><text x="839.5">0</text><text x="868.1">6</text><text x="896.7">0</text><text x="925.3">0</text><text x="953.9">0</text><text x="982.5">2</text><text x="1011.1">5</text><text x="1039.7">0</text><text x="1068.4">0</text><text x="1097">0</text><text x="1125.6">0</text><text x="1154.2">7</text><text x="1182.8">0</text><text x="1211.4">1</text><text x="1240">5</text>
</g>
<g transform="translate(0 248.8)">
<text x="124.2">2</text><text x="152.8">0</text><text x="181.4">0</text><text x="210">0</text><text x="238.7">0</text><text x="267.3">2</text><text x="295.9">0</text><text x="322.9" class="w d">30</text><text x="353.1">0</text><text x="381.7">0</text><text x="410.3">0</text><text x="438.9">6</text><text x="467.5">0</text><text x="496.1">0</text><text x="524.8">0</text><text x="553.4">0</text><text x="582">0</text><text x="610.6">0</text><text x="639.2">2</text><text x="667.8">1</text><text x="696.4">2</text><text x="725">9</text><text x="753.6">0</text><text x="782.3">1</text><text x="810.9">1</text><text x="839.5">1</text><text x="868.1">1</text><text x="896.7">4</text><text x="925.3">0</text><text x="953.9">0</text><text x="982.5">0</text><text x="1011.1">0</text><text x="1039.7">0</text><text x="1068.4">0</text><text x="1097">0</text><text x="1125.6">0</text><text x="1154.2">1</text><text x="1182.8">1</text><text x="1211.4">0</text><text x="1240">0</text>
</g>
<g transform="translate(0 274.6)">
<text x="124.2">2</text><text x="152.8">0</text><text x="181.4">1</text><text x="210">0</text><text x="238.7">0</text><text x="267.3">0</text><text x="295.9">0</text><text x="324.5">0</text><text x="351.5" class="w d">32</text><text x="381.7">2</text><text x="410.3">0</text><text x="438.9">0</text><text x="467.5">0</text><text x="496.1">0</text><text x="524.8">0</text><text x="553.4">0</text><text x="582">0</text><text x="610.6">5</text><text x="639.2">8</text><text x="667.8">0</text><text x="696.4">0</text><text x="725">3</text><text x="753.6">0</text><text x="782.3">0</text><text x="810.9">9</text><text x="839.5">0</text><text x="868.1">0</text><text x="896.7">0</text><text x="925.3">2</text><text x="953.9">0</text><text x="982.5">0</text><text x="1011.1">0</text><text x="1039.7">0</text><text x="1068.4">0</text><text x="1097">0</text><text x="1125.6">0</text><text x="1154.2">0</text><text x="1182.8">0</text><text x="1211.4">0</text><text x="1240">0</text>
</g>
<g transform="translate(0 300.5)">
<text x="124.2">0</text><text x="152.8">5</text><text x="181.4">0</text><text x="210">0</text><text x="238.7">2</text><text x="267.3">0</text><text x="295.9">0</text><text x="324.5">0</text><text x="353.1">2</text><text x="380.1" class="w d">31</text><text x="410.3">0</text><text x="438.9">0</text><text x="467.5">0</text><text x="496.1">0</text><text x="524.8">0</text><text x="553.4">0</text><text x="582">0</text><text x="610.6">0</text><text x="639.2">0</text><text x="667.8">0</text><text x="696.4">0</text><text x="725">0</text><text x="753.6">0</text><text x="782.3">2</text><text x="810.9">3</text><text x="839.5">0</text><text x="866.5" class="d">14</text><text x="896.7">0</text><text x="925.3">0</text><text x="953.9">0</text><text x="982.5">0</text><text x="1011.1">0</text><text x="1039.7">0</text><text x="1068.4">0</text><text x="1097">2</text><text x="1125.6">0</text><text x="1154.2">2</text><text x="1182.8">0</text><text x="1211.4">0</text><text x="1240">1</text>
</g>
<g transform="translate(0 326.3)">
<text x="124.2">0</text><text x="152.8">0</text><text x="181.4">0</text><text x="210">0</text><text x="238.7">0</text><text x="267.3">0</text><text x="295.9">0</text><text x="324.5">0</text><text x="353.1">0</text><text x="381.7">0</text><text x="408.7" class="w d">30</text><text x="437.3" class="d">12</text><text x="467.5">0</text><text x="496.1">0</text><text x="524.8">0</text><text x="553.4">0</text><text x="582">0</text><text x="610.6">0</text><text x="639.2">0</text><text x="667.8">5</text><text x="696.4">0</text><text x="725">0</text><text x="753.6">0</text><text x="782.3">0</text><text x="810.9">0</text><text x="839.5">0</text><text x="868.1">4</text><text x="896.7">1</text><text x="925.3">0</text><text x="953.9">0</text><text x="982.5">1</text><text x="1011.1">0</text><text x="1039.7">0</text><text x="1068.4">0</text><text x="1097">3</text><text x="1125.6">0</text><text x="1154.2">0</text><text x="1182.8">0</text><text x="1211.4">1</text><text x="1240">7</text>
</g>
<g transform="translate(0 352.2)">
<text x="124.2">0</text><text x="152.8">1</text><text x="181.4">0</text><text x="210">0</text><text x="238.7">0</text><text x="267.3">1</text><text x="295.9">0</text><text x="324.5">0</text><text x="353.1">0</text><text x="381.7">1</text><text x="410.3">1</text><text x="437.3" class="w d">31</text><text x="467.5">0</text><text x="496.1">0</text><text x="524.8">0</text><text x="553.4">0</text><text x="582">0</text><text x="610.6">0</text><text x="639.2">0</text><text x="666.2" class="d">14</text><text x="696.4">0</text><text x="725">0</text><text x="753.6">1</text><text x="782.3">3</text><text x="810.9">0</text><text x="839.5">0</text><text x="868.1">5</text><text x="896.7">0</text><text x="925.3">0</text><text x="953.9">0</text><text x="982.5">0</text><text x="1011.1">0</text><text x="1039.7">2</text><text x="1068.4">0</text><text x="1097">0</text><text x="1125.6">0</text><text x="1154.2">0</text><text x="1182.8">0</text><text x="1211.4">0</text><text x="1240">4</text>
</g>
<g transform="translate(0 378)">
<text x="124.2">0</text><text x="152.8">0</text><text x="181.4">3</text><text x="210">0</text><text x="238.7">0</text><text x="267.3">0</text><text x="295.9">0</text><text x="324.5">0</text><text x="353.1">1</text><text x="381.7">0</text><text x="410.3">0</text><text x="438.9">0</text><text x="465.9" class="w d">52</text><text x="496.1">0</text><text x="524.8">0</text><text x="553.4">0</text><text x="582">0</text><text x="610.6">0</text><text x="639.2">4</text><text x="667.8">0</text><text x="696.4">0</text><text x="725">3</text><text x="753.6">0</text><text x="782.3">0</text><text x="810.9">0</text><text x="839.5">1</text><text x="868.1">0</text><text x="896.7">0</text><text x="925.3">0</text><text x="953.9">0</text><text x="982.5">0</text><text x="1011.1">0</text><text x="1039.7">0</text><text x="1068.4">0</text><text x="1097">0</text><text x="1125.6">0</text><text x="1154.2">0</text><text x="1182.8">0</text><text x="1211.4">0</text><text x="1240">0</text>
</g>
<g transform="translate(0 403.9)">
<text x="124.2">0</text><text x="152.8">0</text><text x="181.4">2</text><text x="210">0</text><text x="238.7">3</text><text x="267.3">0</text><text x="295.9">2</text><text x="324.5">0</text><text x="353.1">0</text><text x="381.7">1</text><text x="410.3">0</text><text x="438.9">0</text><text x="467.5">0</text><text x="494.5" class="d">16</text><text x="524.8">0</text><text x="553.4">6</text><text x="582">0</text><text x="610.6">0</text><text x="639.2">0</text><text x="667.8">0</text><text x="696.4">0</text><text x="725">0</text><text x="753.6">0</text><text x="782.3">0</text><text x="810.9">0</text><text x="839.5">1</text><text x="868.1">1</text><text x="896.7">0</text><text x="923.7" class="d">12</text><text x="953.9">0</text><text x="982.5">0</text><text x="1011.1">2</text><text x="1039.7">0</text><text x="1068.4">0</text><text x="1097">0</text><text x="1125.6">0</text><text x="1152.6" class="d">11</text><text x="1182.8">0</text><text x="1211.4">4</text><text x="1240">3</text>
</g>
<g transform="translate(0 429.7)">
<text x="124.2">7</text><text x="152.8">2</text><text x="181.4">0</text><text x="210">0</text><text x="238.7">0</text><text x="267.3">0</text><text x="295.9">0</text><text x="324.5">0</text><text x="353.1">0</text><text x="381.7">1</text><text x="410.3">3</text><text x="438.9">3</text><text x="467.5">0</text><text x="496.1">1</text><text x="523.1" class="d">20</text><text x="553.4">0</text><text x="582">0</text><text x="610.6">0</text><text x="639.2">0</text><text x="667.8">2</text><text x="696.4">0</text><text x="725">4</text><text x="753.6">0</text><text x="782.3">1</text><text x="810.9">1</text><text x="839.5">0</text><text x="868.1">5</text><text x="896.7">0</text><text x="925.3">0</text><text x="953.9">0</text><text x="982.5">0</text><text x="1011.1">0</text><text x="1039.7">0</text><text x="1068.4">0</text><text x="1097">7</text><text x="1125.6">3</text><text x="1154.2">0</text><text x="1182.8">0</text><text x="1211.4">0</text><text x="1240">4</text>
</g>
<g transform="translate(0 455.6)">
<text x="124.2">0</text><text x="152.8">0</text><text x="181.4">5</text><text x="210">0</text><text x="237" class="d">12</text><text x="267.3">0</text><text x="295.9">3</text><text x="324.5">0</text><text x="353.1">0</text><text x="381.7">1</text><text x="410.3">0</text><text x="438.9">0</text><text x="467.5">0</text><text x="496.1">0</text><text x="524.8">0</text><text x="551.8" class="w d">38</text><text x="582">0</text><text x="610.6">0</text><text x="639.2">0</text><text x="667.8">0</text><text x="696.4">0</text><text x="725">0</text><text x="753.6">0</text><text x="782.3">0</text><text x="810.9">0</text><text x="839.5">1</text><text x="868.1">0</text><text x="896.7">0</text><text x="925.3">0</text><text x="953.9">0</text><text x="982.5">1</text><text x="1011.1">0</text><text x="1039.7">0</text><text x="1068.4">0</text><text x="1097">0</text><text x="1125.6">0</text><text x="1154.2">2</text><text x="1182.8">0</text><text x="1211.4">0</text><text x="1240">1</text>
</g>
<g transform="translate(0 481.4)">
<text x="124.2">1</text><text x="152.8">0</text><text x="181.4">0</text><text x="210">0</text><text x="238.7">0</text><text x="267.3">0</text><text x="295.9">0</text><text x="324.5">0</text><text x="353.1">2</text><text x="381.7">0</text><text x="410.3">0</text><text x="438.9">9</text><text x="467.5">2</text><text x="496.1">0</text><text x="524.8">0</text><text x="553.4">0</text><text x="582">4</text><text x="610.6">3</text><text x="639.2">0</text><text x="667.8">0</text><text x="696.4">5</text><text x="725">5</text><text x="753.6">0</text><text x="782.3">0</text><text x="810.9">0</text><text x="839.5">0</text><text x="868.1">1</text><text x="895.1" class="w d">30</text><text x="925.3">0</text><text x="953.9">0</text><text x="982.5">0</text><text x="1011.1">0</text><text x="1039.7">0</text><text x="1068.4">0</text><text x="1097">2</text><text x="1125.6">0</text><text x="1154.2">0</text><text x="1182.8">0</text><text x="1211.4">0</text><text x="1240">0</text>
</g>
<g transform="translate(0 507.3)">
<text x="124.2">0</text><text x="152.8">0</text><text x="181.4">1</text><text x="210">0</text><text x="238.7">0</text><text x="267.3">1</text><text x="295.9">0</text><text x="324.5">0</text><text x="353.1">2</text><text x="381.7">0</text><text x="410.3">0</text><text x="438.9">0</text><text x="467.5">0</text><text x="496.1">0</text><text x="524.8">0</text><text x="553.4">0</text><text x="582">0</text><text x="609" class="d">29</text><text x="639.2">1</text><text x="667.8">5</text><text x="696.4">4</text><text x="725">5</text><text x="753.6">0</text><text x="782.3">0</text><text x="810.9">2</text><text x="839.5">0</text><text x="868.1">0</text><text x="896.7">2</text><text x="925.3">0</text><text x="953.9">0</text><text x="982.5">0</text><text x="1011.1">0</text><text x="1039.7">0</text><text x="1068.4">1</text><text x="1097">0</text><text x="1124" class="d">10</text><text x="1154.2">1</text><text x="1182.8">0</text><text x="1211.4">0</text><text x="1240">0</text>
</g>
<g transform="translate(0 533.1)">
<text x="124.2">0</text><text x="152.8">3</text><text x="181.4">4</text><text x="210">0</text><text x="238.7">0</text><text x="267.3">0</text><text x="295.9">0</text><text x="324.5">0</text><text x="351.5" class="w d">31</text><text x="381.7">0</text><text x="410.3">0</text><text x="438.9">0</text><text x="467.5">8</text><text x="496.1">0</text><text x="524.8">0</text><text x="553.4">0</text><text x="582">0</text><text x="610.6">5</text><text x="639.2">9</text><text x="667.8">0</text><text x="696.4">0</text><text x="725">0</text><text x="753.6">0</text><text x="782.3">0</text><text x="810.9">0</text><text x="839.5">0</text><text x="868.1">0</text><text x="896.7">4</text><text x="925.3">0</text><text x="953.9">0</text><text x="982.5">0</text><text x="1011.1">0</text><text x="1039.7">0</text><text x="1068.4">0</text><text x="1097">0</text><text x="1125.6">0</text><text x="1154.2">0</text><text x="1182.8">0</text><text x="1211.4">0</text><text x="1240">0</text>
</g>
<g transform="translate(0 559)">
<text x="124.2">0</text><text x="152.8">0</text><text x="181.4">0</text><text x="210">5</text><text x="238.7">0</text><text x="265.7" class="d">15</text><text x="295.9">0</text><text x="324.5">0</text><text x="353.1">1</text><text x="381.7">0</text><text x="410.3">0</text><text x="438.9">1</text><text x="467.5">0</text><text x="496.1">0</text><text x="524.8">0</text><text x="553.4">0</text><text x="582">0</text><text x="610.6">0</text><text x="639.2">2</text><text x="666.2" class="w d">31</text><text x="696.4">0</text><text x="725">1</text><text x="753.6">0</text><text x="782.3">0</text><text x="810.9">0</text><text x="839.5">0</text><text x="868.1">0</text><text x="896.7">0</text><text x="925.3">0</text><text x="953.9">0</text><text x="982.5">0</text><text x="1011.1">0</text><text x="1039.7">0</text><text x="1068.4">0</text><text x="1097">0</text><text x="1125.6">0</text><text x="1154.2">2</text><text x="1182.8">0</text><text x="1211.4">0</text><text x="1240">6</text>
</g>
<g transform="translate(0 584.8)">
<text x="124.2">0</text><text x="152.8">0</text><text x="179.8" class="d">10</text><text x="210">0</text><text x="238.7">0</text><text x="267.3">0</text><text x="295.9">0</text><text x="324.5">0</text><text x="353.1">0</text><text x="381.7">0</text><text x="410.3">0</text><text x="438.9">2</text><text x="467.5">0</text><text x="496.1">0</text><text x="524.8">0</text><text x="553.4">0</text><text x="582">1</text><text x="610.6">1</text><text x="639.2">0</text><text x="667.8">0</text><text x="696.4">5</text><text x="723.4" class="d">10</text><text x="753.6">0</text><text x="782.3">0</text><text x="810.9">0</text><text x="839.5">0</text><text x="868.1">0</text><text x="895.1" class="w d">34</text><text x="925.3">0</text><text x="953.9">0</text><text x="982.5">0</text><text x="1011.1">0</text><text x="1039.7">0</text><text x="1068.4">0</text><text x="1097">0</text><text x="1125.6">0</text><text x="1154.2">0</text><text x="1182.8">0</text><text x="1211.4">0</text><text x="1240">1</text>
</g>
<g transform="translate(0 610.7)">
<text x="124.2">0</text><text x="152.8">3</text><text x="181.4">1</text><text x="210">0</text><text x="238.7">0</text><text x="267.3">0</text><text x="295.9">0</text><text x="324.5">0</text><text x="353.1">0</text><text x="381.7">0</text><text x="410.3">0</text><text x="438.9">0</text><text x="467.5">4</text><text x="496.1">0</text><text x="524.8">0</text><text x="553.4">0</text><text x="582">0</text><text x="610.6">0</text><text x="639.2">8</text><text x="667.8">0</text><text x="696.4">0</text><text x="723.4" class="d">22</text><text x="753.6">1</text><text x="782.3">6</text><text x="810.9">0</text><text x="839.5">0</text><text x="868.1">0</text><text x="895.1" class="d">10</text><text x="925.3">0</text><text x="953.9">0</text><text x="982.5">0</text><text x="1011.1">0</text><text x="1039.7">0</text><text x="1068.4">0</text><text x="1097">0</text><text x="1125.6">0</text><text x="1154.2">0</text><text x="1182.8">0</text><text x="1211.4">0</text><text x="1240">9</text>
</g>
<g transform="translate(0 636.5)">
<text x="124.2">0</text><text x="152.8">0</text><text x="181.4">0</text><text x="210">0</text><text x="238.7">0</text><text x="267.3">0</text><text x="295.9">0</text><text x="324.5">2</text><text x="353.1">0</text><text x="381.7">0</text><text x="410.3">0</text><text x="438.9">8</text><text x="467.5">0</text><text x="496.1">0</text><text x="524.8">0</text><text x="553.4">0</text><text x="582">0</text><text x="610.6">6</text><text x="639.2">5</text><text x="667.8">0</text><text x="696.4">0</text><text x="725">0</text><text x="752" class="d">23</text><text x="782.3">0</text><text x="810.9">0</text><text x="839.5">0</text><text x="868.1">0</text><text x="895.1" class="d">15</text><text x="925.3">0</text><text x="953.9">0</text><text x="982.5">0</text><text x="1011.1">0</text><text x="1039.7">2</text><text x="1068.4">0</text><text x="1097">0</text><text x="1125.6">3</text><text x="1154.2">0</text><text x="1182.8">0</text><text x="1211.4">0</text><text x="1240">0</text>
</g>
<g transform="translate(0 662.4)">
<text x="124.2">3</text><text x="152.8">5</text><text x="181.4">0</text><text x="210">0</text><text x="238.7">0</text><text x="267.3">2</text><text x="295.9">0</text><text x="324.5">0</text><text x="353.1">4</text><text x="381.7">7</text><text x="410.3">0</text><text x="438.9">3</text><text x="467.5">0</text><text x="496.1">0</text><text x="524.8">0</text><text x="553.4">0</text><text x="582">0</text><text x="610.6">0</text><text x="639.2">5</text><text x="667.8">0</text><text x="696.4">0</text><text x="725">0</text><text x="753.6">0</text><text x="780.6" class="d">24</text><text x="810.9">5</text><text x="839.5">0</text><text x="868.1">4</text><text x="896.7">0</text><text x="925.3">0</text><text x="953.9">0</text><text x="982.5">0</text><text x="1011.1">0</text><text x="1039.7">0</text><text x="1068.4">0</text><text x="1097">0</text><text x="1125.6">0</text><text x="1154.2">0</text><text x="1182.8">0</text><text x="1211.4">0</text><text x="1240">2</text>
</g>
<g transform="translate(0 688.2)">
<text x="124.2">1</text><text x="152.8">0</text><text x="181.4">0</text><text x="210">0</text><text x="238.7">5</text><text x="267.3">0</text><text x="295.9">0</text><text x="324.5">0</text><text x="353.1">2</text><text x="381.7">0</text><text x="410.3">0</text><text x="438.9">0</text><text x="467.5">0</text><text x="496.1">0</text><text x="524.8">1</text><text x="553.4">0</text><text x="582">0</text><text x="610.6">0</text><text x="639.2">0</text><text x="667.8">1</text><text x="696.4">1</text><text x="725">0</text><text x="753.6">0</text><text x="782.3">0</text><text x="809.3" class="w d">43</text><text x="839.5">0</text><text x="868.1">0</text><text x="896.7">0</text><text x="925.3">9</text><text x="953.9">0</text><text x="982.5">0</text><text x="1011.1">0</text><text x="1039.7">0</text><text x="1068.4">0</text><text x="1097">0</text><text x="1125.6">0</text><text x="1154.2">1</text><text x="1182.8">0</text><text x="1211.4">0</text><text x="1240">0</text>
</g>
<g transform="translate(0 714.1)">
<text x="124.2">0</text><text x="152.8">0</text><text x="181.4">2</text><text x="210">0</text><text x="238.7">1</text><text x="267.3">0</text><text x="295.9">0</text><text x="324.5">0</text><text x="353.1">1</text><text x="381.7">0</text><text x="410.3">0</text><text x="438.9">0</text><text x="467.5">5</text><text x="496.1">0</text><text x="524.8">0</text><text x="553.4">0</text><text x="582">0</text><text x="610.6">0</text><text x="639.2">0</text><text x="667.8">0</text><text x="696.4">0</text><text x="725">0</text><text x="753.6">0</text><text x="782.3">0</text><text x="810.9">0</text><text x="837.9" class="w d">55</text><text x="868.1">0</text><text x="896.7">0</text><text x="925.3">0</text><text x="953.9">0</text><text x="982.5">0</text><text x="1011.1">0</text><text x="1039.7">0</text><text x="1068.4">0</text><text x="1097">0</text><text x="1125.6">0</text><text x="1154.2">0</text><text x="1182.8">0</text><text x="1211.4">0</text><text x="1240">0</text>
</g>
<g transform="translate(0 739.9)">
<text x="124.2">0</text><text x="152.8">1</text><text x="181.4">0</text><text x="210">0</text><text x="238.7">8</text><text x="267.3">0</text><text x="295.9">0</text><text x="324.5">0</text><text x="353.1">0</text><text x="381.7">4</text><text x="410.3">0</text><text x="438.9">0</text><text x="467.5">0</text><text x="496.1">0</text><text x="524.8">0</text><text x="553.4">0</text><text x="582">0</text><text x="610.6">0</text><text x="639.2">0</text><text x="667.8">0</text><text x="696.4">0</text><text x="725">0</text><text x="753.6">0</text><text x="782.3">0</text><text x="810.9">0</text><text x="839.5">0</text><text x="866.5" class="w d">35</text><text x="896.7">0</text><text x="925.3">0</text><text x="953.9">0</text><text x="980.9" class="d">10</text><text x="1011.1">0</text><text x="1039.7">0</text><text x="1068.4">0</text><text x="1097">0</text><text x="1125.6">0</text><text x="1154.2">0</text><text x="1182.8">0</text><text x="1211.4">0</text><text x="1240">6</text>
</g>
<g transform="translate(0 765.8)">
<text x="124.2">1</text><text x="152.8">0</text><text x="181.4">1</text><text x="210">0</text><text x="238.7">0</text><text x="267.3">0</text><text x="295.9">0</text><text x="324.5">1</text><text x="353.1">0</text><text x="381.7">0</text><text x="410.3">0</text><text x="438.9">2</text><text x="467.5">1</text><text x="496.1">1</text><text x="524.8">0</text><text x="553.4">0</text><text x="582">0</text><text x="610.6">0</text><text x="639.2">0</text><text x="667.8">0</text><text x="696.4">0</text><text x="723.4" class="d">18</text><text x="753.6">0</text><text x="782.3">0</text><text x="810.9">0</text><text x="839.5">0</text><text x="868.1">1</text><text x="895.1" class="w d">37</text><text x="925.3">0</text><text x="953.9">0</text><text x="982.5">0</text><text x="1011.1">0</text><text x="1039.7">0</text><text x="1068.4">0</text><text x="1097">1</text><text x="1125.6">0</text><text x="1154.2">0</text><text x="1182.8">0</text><text x="1211.4">0</text><text x="1240">0</text>
</g>
<g transform="translate(0 791.6)">
<text x="124.2">0</text><text x="152.8">0</text><text x="181.4">0</text><text x="210">0</text><text x="237" class="d">14</text><text x="267.3">0</text><text x="295.9">0</text><text x="324.5">0</text><text x="353.1">1</text><text x="381.7">0</text><text x="410.3">0</text><text x="438.9">0</text><text x="467.5">0</text><text x="496.1">1</text><text x="524.8">0</text><text x="553.4">0</text><text x="582">0</text><text x="610.6">0</text><text x="639.2">0</text><text x="667.8">0</text><text x="696.4">0</text><text x="725">0</text><text x="753.6">0</text><text x="782.3">0</text><text x="809.3" class="d">10</text><text x="839.5">0</text><text x="868.1">0</text><text x="896.7">0</text><text x="923.7" class="w d">37</text><text x="953.9">0</text><text x="982.5">0</text><text x="1011.1">0</text><text x="1039.7">0</text><text x="1068.4">0</text><text x="1097">0</text><text x="1125.6">0</text><text x="1154.2">1</text><text x="1182.8">0</text><text x="1211.4">0</text><text x="1240">0</text>
</g>
<g transform="translate(0 817.5)">
<text x="124.2">8</text><text x="152.8">0</text><text x="181.4">0</text><text x="210">0</text><text x="238.7">0</text><text x="267.3">0</text><text x="295.9">0</text><text x="324.5">2</text><text x="353.1">2</text><text x="381.7">0</text><text x="410.3">0</text><text x="438.9">4</text><text x="467.5">0</text><text x="496.1">3</text><text x="524.8">0</text><text x="553.4">0</text><text x="582">4</text><text x="610.6">4</text><text x="639.2">2</text><text x="667.8">0</text><text x="696.4">6</text><text x="725">2</text><text x="753.6">0</text><text x="782.3">2</text><text x="810.9">0</text><text x="839.5">0</text><text x="868.1">1</text><text x="896.7">6</text><text x="925.3">0</text><text x="953.9">7</text><text x="982.5">0</text><text x="1011.1">0</text><text x="1039.7">1</text><text x="1068.4">0</text><text x="1097">0</text><text x="1124" class="d">10</text><text x="1154.2">0</text><text x="1182.8">0</text><text x="1211.4">0</text><text x="1240">0</text>
</g>
<g transform="translate(0 843.3)">
<text x="124.2">0</text><text x="152.8">4</text><text x="181.4">0</text><text x="210">0</text><text x="238.7">0</text><text x="267.3">0</text><text x="295.9">0</text><text x="324.5">0</text><text x="353.1">0</text><text x="381.7">0</text><text x="410.3">0</text><text x="438.9">0</text><text x="467.5">2</text><text x="496.1">0</text><text x="524.8">0</text><text x="553.4">0</text><text x="582">0</text><text x="610.6">1</text><text x="639.2">3</text><text x="667.8">0</text><text x="696.4">0</text><text x="725">1</text><text x="753.6">0</text><text x="782.3">0</text><text x="810.9">0</text><text x="839.5">0</text><text x="868.1">0</text><text x="896.7">0</text><text x="925.3">0</text><text x="953.9">0</text><text x="980.9" class="w d">42</text><text x="1011.1">0</text><text x="1039.7">0</text><text x="1068.4">0</text><text x="1097">0</text><text x="1125.6">0</text><text x="1152.6" class="d">11</text><text x="1182.8">0</text><text x="1211.4">0</text><text x="1240">0</text>
</g>
<g transform="translate(0 869.2)">
<text x="124.2">0</text><text x="152.8">1</text><text x="181.4">0</text><text x="210">0</text><text x="237" class="d">26</text><text x="267.3">0</text><text x="295.9">0</text><text x="324.5">0</text><text x="353.1">3</text><text x="381.7">0</text><text x="410.3">0</text><text x="438.9">0</text><text x="467.5">0</text><text x="496.1">1</text><text x="524.8">0</text><text x="553.4">1</text><text x="582">0</text><text x="610.6">0</text><text x="639.2">0</text><text x="667.8">0</text><text x="696.4">0</text><text x="725">0</text><text x="753.6">0</text><text x="782.3">2</text><text x="810.9">1</text><text x="839.5">0</text><text x="868.1">2</text><text x="896.7">0</text><text x="925.3">0</text><text x="953.9">0</text><text x="982.5">0</text><text x="1009.5" class="d">26</text><text x="1039.7">0</text><text x="1068.4">0</text><text x="1097">0</text><text x="1125.6">0</text><text x="1154.2">1</text><text x="1182.8">0</text><text x="1211.4">0</text><text x="1240">0</text>
</g>
<g transform="translate(0 895)">
<text x="124.2">0</text><text x="152.8">0</text><text x="181.4">0</text><text x="210">4</text><text x="238.7">0</text><text x="265.7" class="d">11</text><text x="295.9">0</text><text x="324.5">9</text><text x="353.1">0</text><text x="381.7">0</text><text x="410.3">0</text><text x="437.3" class="d">13</text><text x="467.5">0</text><text x="496.1">1</text><text x="524.8">0</text><text x="553.4">0</text><text x="582">0</text><text x="610.6">0</text><text x="639.2">0</text><text x="667.8">2</text><text x="696.4">0</text><text x="725">0</text><text x="753.6">3</text><text x="782.3">1</text><text x="810.9">0</text><text x="839.5">0</text><text x="868.1">0</text><text x="896.7">1</text><text x="925.3">0</text><text x="953.9">0</text><text x="982.5">0</text><text x="1011.1">0</text><text x="1038.1" class="d">17</text><text x="1068.4">0</text><text x="1097">0</text><text x="1125.6">0</text><text x="1154.2">0</text><text x="1182.8">0</text><text x="1211.4">0</text><text x="1240">2</text>
</g>
<g transform="translate(0 920.9)">
<text x="124.2">4</text><text x="152.8">0</text><text x="181.4">0</text><text x="210">0</text><text x="238.7">0</text><text x="267.3">1</text><text x="295.9">0</text><text x="324.5">2</text><text x="353.1">0</text><text x="381.7">0</text><text x="410.3">0</text><text x="438.9">4</text><text x="467.5">0</text><text x="496.1">2</text><text x="524.8">0</text><text x="553.4">0</text><text x="582">0</text><text x="610.6">0</text><text x="639.2">3</text><text x="667.8">0</text><text x="696.4">1</text><text x="725">4</text><text x="753.6">0</text><text x="782.3">5</text><text x="810.9">0</text><text x="839.5">0</text><text x="868.1">5</text><text x="896.7">1</text><text x="925.3">0</text><text x="953.9">5</text><text x="982.5">0</text><text x="1011.1">0</text><text x="1039.7">4</text><text x="1068.4">9</text><text x="1097">2</text><text x="1124" class="d">11</text><text x="1154.2">0</text><text x="1182.8">1</text><text x="1211.4">0</text><text x="1240">0</text>
</g>
<g transform="translate(0 946.7)">
<text x="124.2">4</text><text x="152.8">6</text><text x="181.4">0</text><text x="210">0</text><text x="238.7">0</text><text x="267.3">0</text><text x="295.9">0</text><text x="324.5">0</text><text x="353.1">2</text><text x="381.7">2</text><text x="410.3">1</text><text x="438.9">2</text><text x="467.5">0</text><text x="496.1">0</text><text x="524.8">0</text><text x="553.4">0</text><text x="582">0</text><text x="610.6">0</text><text x="639.2">0</text><text x="667.8">0</text><text x="696.4">0</text><text x="725">2</text><text x="753.6">0</text><text x="782.3">3</text><text x="810.9">0</text><text x="839.5">0</text><text x="868.1">7</text><text x="896.7">0</text><text x="925.3">0</text><text x="953.9">0</text><text x="982.5">0</text><text x="1011.1">0</text><text x="1039.7">0</text><text x="1068.4">0</text><text x="1095.4" class="d">19</text><text x="1124" class="d">16</text><text x="1154.2">0</text><text x="1182.8">0</text><text x="1211.4">0</text><text x="1240">0</text>
</g>
<g transform="translate(0 972.6)">
<text x="124.2">5</text><text x="152.8">7</text><text x="181.4">0</text><text x="210">0</text><text x="238.7">0</text><text x="267.3">1</text><text x="295.9">0</text><text x="324.5">0</text><text x="353.1">6</text><text x="381.7">0</text><text x="410.3">0</text><text x="438.9">1</text><text x="467.5">0</text><text x="496.1">0</text><text x="524.8">0</text><text x="553.4">0</text><text x="582">1</text><text x="610.6">6</text><text x="639.2">0</text><text x="667.8">0</text><text x="694.8" class="d">12</text><text x="725">0</text><text x="753.6">0</text><text x="782.3">0</text><text x="810.9">0</text><text x="839.5">0</text><text x="868.1">0</text><text x="896.7">2</text><text x="925.3">0</text><text x="953.9">0</text><text x="982.5">0</text><text x="1011.1">0</text><text x="1039.7">0</text><text x="1068.4">0</text><text x="1097">0</text><text x="1124" class="d">23</text><text x="1154.2">0</text><text x="1182.8">0</text><text x="1211.4">0</text><text x="1240">0</text>
</g>
<g transform="translate(0 998.4)">
<text x="124.2">0</text><text x="152.8">0</text><text x="181.4">0</text><text x="210">0</text><text x="238.7">0</text><text x="267.3">1</text><text x="295.9">0</text><text x="324.5">0</text><text x="353.1">9</text><text x="381.7">0</text><text x="410.3">0</text><text x="438.9">0</text><text x="467.5">0</text><text x="496.1">5</text><text x="524.8">0</text><text x="553.4">0</text><text x="582">0</text><text x="610.6">1</text><text x="639.2">3</text><text x="667.8">0</text><text x="696.4">0</text><text x="723.4" class="d">13</text><text x="753.6">0</text><text x="782.3">0</text><text x="810.9">0</text><text x="839.5">0</text><text x="868.1">0</text><text x="896.7">0</text><text x="925.3">0</text><text x="953.9">0</text><text x="982.5">0</text><text x="1011.1">0</text><text x="1039.7">0</text><text x="1068.4">0</text><text x="1097">0</text><text x="1125.6">0</text><text x="1152.6" class="w d">32</text><text x="1182.8">0</text><text x="1211.4">0</text><text x="1240">0</text>
</g>
<g transform="translate(0 1024.3)">
<text x="124.2">2</text><text x="152.8">0</text><text x="181.4">0</text><text x="210">4</text><text x="238.7">0</text><text x="265.7" class="d">11</text><text x="295.9">0</text><text x="324.5">0</text><text x="353.1">5</text><text x="381.7">0</text><text x="410.3">0</text><text x="438.9">1</text><text x="467.5">0</text><text x="496.1">0</text><text x="524.8">0</text><text x="553.4">0</text><text x="582">0</text><text x="610.6">6</text><text x="639.2">1</text><text x="667.8">2</text><text x="696.4">0</text><text x="725">1</text><text x="753.6">1</text><text x="782.3">1</text><text x="810.9">7</text><text x="839.5">0</text><text x="868.1">1</text><text x="896.7">1</text><text x="925.3">0</text><text x="953.9">0</text><text x="982.5">0</text><text x="1011.1">0</text><text x="1039.7">2</text><text x="1068.4">0</text><text x="1097">0</text><text x="1125.6">3</text><text x="1154.2">1</text><text x="1181.2" class="d">14</text><text x="1211.4">0</text><text x="1240">0</text>
</g>
<g transform="translate(0 1050.1)">
<text x="124.2">0</text><text x="152.8">3</text><text x="181.4">2</text><text x="210">0</text><text x="238.7">9</text><text x="267.3">0</text><text x="295.9">1</text><text x="324.5">0</text><text x="353.1">0</text><text x="381.7">5</text><text x="410.3">0</text><text x="438.9">1</text><text x="467.5">0</text><text x="496.1">2</text><text x="524.8">0</text><text x="553.4">7</text><text x="582">0</text><text x="610.6">0</text><text x="639.2">0</text><text x="667.8">0</text><text x="696.4">0</text><text x="725">0</text><text x="753.6">0</text><text x="782.3">0</text><text x="810.9">0</text><text x="839.5">0</text><text x="868.1">3</text><text x="896.7">0</text><text x="925.3">0</text><text x="953.9">0</text><text x="982.5">3</text><text x="1011.1">0</text><text x="1039.7">0</text><text x="1068.4">0</text><text x="1097">0</text><text x="1125.6">0</text><text x="1154.2">1</text><text x="1182.8">0</text><text x="1209.8" class="d">27</text><text x="1240">0</text>
</g>
<g transform="translate(0 1076)">
<text x="124.2">0</text><text x="152.8">0</text><text x="181.4">0</text><text x="210">0</text><text x="238.7">0</text><text x="267.3">0</text><text x="295.9">0</text><text x="324.5">1</text><text x="353.1">0</text><text x="381.7">0</text><text x="410.3">0</text><text x="438.9">3</text><text x="467.5">0</text><text x="496.1">0</text><text x="524.8">0</text><text x="553.4">0</text><text x="582">0</text><text x="610.6">0</text><text x="639.2">0</text><text x="667.8">0</text><text x="696.4">0</text><text x="725">1</text><text x="753.6">0</text><text x="782.3">0</text><text x="810.9">0</text><text x="839.5">0</text><text x="868.1">0</text><text x="896.7">0</text><text x="925.3">0</text><text x="953.9">0</text><text x="982.5">0</text><text x="1011.1">0</text><text x="1039.7">0</text><text x="1068.4">0</text><text x="1097">0</text><text x="1125.6">0</text><text x="1152.6" class="d">22</text><text x="1182.8">0</text><text x="1211.4">0</text><text x="1238.4" class="w d">37</text>
</g>
</g>
<g class="yt" transform="scale(1.04 1)">
<text x="90.4" y="68">0</text>
<text x="90.4" y="93.9">1</text>
<text x="90.4" y="119.7">2</text>
<text x="90.4" y="145.6">3</text>
<text x="90.4" y="171.4">4</text>
<text x="90.4" y="197.3">5</text>
<text x="90.4" y="223.1">6</text>
<text x="90.4" y="249">7</text>
<text x="90.4" y="274.8">8</text>
<text x="90.4" y="300.7">9</text>
<text class="d" x="91.6" y="326.5">10</text>
<text class="d" x="91.6" y="352.4">11</text>
<text class="d" x="91.6" y="378.2">12</text>
<text class="d" x="91.6" y="404.1">13</text>
<text class="d" x="91.6" y="429.9">14</text>
<text class="d" x="91.6" y="455.8">15</text>
<text class="d" x="91.6" y="481.6">16</text>
<text class="d" x="91.6" y="507.5">17</text>
<text class="d" x="91.6" y="533.3">18</text>
<text class="d" x="91.6" y="559.2">19</text>
<text class="d" x="91.6" y="585">20</text>
<text class="d" x="91.6" y="610.9">21</text>
<text class="d" x="91.6" y="636.7">22</text>
<text class="d" x="91.6" y="662.6">23</text>
<text class="d" x="91.6" y="688.4">24</text>
<text class="d" x="91.6" y="714.3">25</text>
<text class="d" x="91.6" y="740.1">26</text>
<text class="d" x="91.6" y="766">27</text>
<text class="d" x="91.6" y="791.8">28</text>
<text class="d" x="91.6" y="817.7">29</text>
<text class="d" x="91.6" y="843.5">30</text>
<text class="d" x="91.6" y="869.4">31</text>
<text class="d" x="91.6" y="895.2">32</text>
<text class="d" x="91.6" y="921.1">33</text>
<text class="d" x="91.6" y="946.9">34</text>
<text class="d" x="91.6" y="972.8">35</text>
<text class="d" x="91.6" y="998.6">36</text>
<text class="d" x="91.6" y="1024.5">37</text>
<text class="d" x="91.6" y="1050.3">38</text>
<text class="d" x="91.6" y="1076.2">39</text>
</g>
<g class="xt">
<text transform="translate(136.5 1104.3) rotate(-90) scale(1.0 1)">0</text>
<text transform="translate(166.2 1104.3) rotate(-90) scale(1.0 1)">1</text>
<text transform="translate(196 1104.3) rotate(-90) scale(1.0 1)">2</text>
<text transform="translate(225.7 1104.3) rotate(-90) scale(1.0 1)">3</text>
<text transform="translate(255.5 1104.3) rotate(-90) scale(1.0 1)">4</text>
<text transform="translate(285.3 1104.3) rotate(-90) scale(1.0 1)">5</text>
<text transform="translate(315 1104.3) rotate(-90) scale(1.0 1)">6</text>
<text transform="translate(344.8 1104.3) rotate(-90) scale(1.0 1)">7</text>
<text transform="translate(374.5 1104.3) rotate(-90) scale(1.0 1)">8</text>
<text transform="translate(404.3 1104.3) rotate(-90) scale(1.0 1)">9</text>
<text transform="translate(434 1107.6) rotate(-90) scale(1.0 1)">10</text>
<text transform="translate(463.8 1107.6) rotate(-90) scale(1.0 1)">11</text>
<text transform="translate(493.5 1107.6) rotate(-90) scale(1.0 1)">12</text>
<text transform="translate(523.3 1107.6) rotate(-90) scale(1.0 1)">13</text>
<text transform="translate(553 1107.6) rotate(-90) scale(1.0 1)">14</text>
<text transform="translate(582.8 1107.6) rotate(-90) scale(1.0 1)">15</text>
<text transform="translate(612.6 1107.6) rotate(-90) scale(1.0 1)">16</text>
<text transform="translate(642.3 1107.6) rotate(-90) scale(1.0 1)">17</text>
<text transform="translate(672.1 1107.6) rotate(-90) scale(1.0 1)">18</text>
<text transform="translate(701.8 1107.6) rotate(-90) scale(1.0 1)">19</text>
<text transform="translate(731.6 1107.6) rotate(-90) scale(1.0 1)">20</text>
<text transform="translate(761.3 1107.6) rotate(-90) scale(1.0 1)">21</text>
<text transform="translate(791.1 1107.6) rotate(-90) scale(1.0 1)">22</text>
<text transform="translate(820.8 1107.6) rotate(-90) scale(1.0 1)">23</text>
<text transform="translate(850.6 1107.6) rotate(-90) scale(1.0 1)">24</text>
<text transform="translate(880.4 1107.6) rotate(-90) scale(1.0 1)">25</text>
<text transform="translate(910.1 1107.6) rotate(-90) scale(1.0 1)">26</text>
<text transform="translate(939.9 1107.6) rotate(-90) scale(1.0 1)">27</text>
<text transform="translate(969.6 1107.6) rotate(-90) scale(1.0 1)">28</text>
<text transform="translate(999.4 1107.6) rotate(-90) scale(1.0 1)">29</text>
<text transform="translate(1029.1 1107.6) rotate(-90) scale(1.0 1)">30</text>
<text transform="translate(1058.9 1107.6) rotate(-90) scale(1.0 1)">31</text>
<text transform="translate(1088.6 1107.6) rotate(-90) scale(1.0 1)">32</text>
<text transform="translate(1118.4 1107.6) rotate(-90) scale(1.0 1)">33</text>
<text transform="translate(1148.1 1107.6) rotate(-90) scale(1.0 1)">34</text>
<text transform="translate(1177.9 1107.6) rotate(-90) scale(1.0 1)">35</text>
<text transform="translate(1207.7 1107.6) rotate(-90) scale(1.0 1)">36</text>
<text transform="translate(1237.4 1107.6) rotate(-90) scale(1.0 1)">37</text>
<text transform="translate(1267.2 1107.6) rotate(-90) scale(1.0 1)">38</text>
<text transform="translate(1296.9 1107.6) rotate(-90) scale(1.0 1)">39</text>
</g>
<text class="ti" x="708.1" y="30.9" textLength="270" lengthAdjust="spacingAndGlyphs">Confusion Matrix</text>
<text class="lb" x="709.1" y="1165.6" textLength="219" lengthAdjust="spacingAndGlyphs">Predicted Labels</text>
<text class="lb" transform="translate(41.4 566.3) rotate(-90)" textLength="152" lengthAdjust="spacingAndGlyphs">True Labels</text>
<g class="ct" transform="scale(1.04 1)">
<text x="1393" y="1091.7">0</text>
<text x="1393" y="924.9" class="d">10</text>
<text x="1393" y="758.2" class="d">20</text>
<text x="1393" y="591.4" class="d">30</text>
<text x="1393" y="424.6" class="d">40</text>
<text x="1393" y="257.8" class="d">50</text>
<text x="1393" y="91.1" class="d">60</text>
</g>
<g class="an" transform="scale(1.04 1)">
<g transform="translate(0 1378.4)">
<text x="108.6" class="w d">40</text><text x="138.8">0</text><text x="167.4">1</text><text x="195.9">0</text><text x="224.5">0</text><text x="253.1">0</text><text x="281.6">0</text><text x="310.2">0</text><text x="338.7">1</text><text x="367.3">0</text><text x="395.9">0</text><text x="424.4">0</text><text x="453">0</text><text x="481.6">0</text><text x="510.1">0</text><text x="538.7">0</text><text x="567.2">0</text><text x="595.8">2</text><text x="624.4">4</text><text x="652.9">0</text><text x="681.5">1</text><text x="708.4" class="d">14</text><text x="738.6">0</text><text x="767.2">0</text><text x="795.7">0</text><text x="824.3">0</text><text x="852.9">0</text><text x="881.4">0</text><text x="910">0</text><text x="938.6">0</text><text x="967.1">0</text><text x="995.7">0</text><text x="1024.2">0</text><text x="1052.8">0</text><text x="1081.4">0</text><text x="1109.9">1</text><text x="1138.5">0</text><text x="1167.1">0</text><text x="1195.6">0</text><text x="1224.2">0</text>
</g>
<g transform="translate(0 1404.2)">
<text x="110.2">1</text><text x="137.2" class="w d">39</text><text x="167.4">0</text><text x="195.9">0</text><text x="224.5">0</text><text x="253.1">0</text><text x="281.6">0</text><text x="310.2">0</text><text x="337.1" class="d">15</text><text x="367.3">0</text><text x="395.9">0</text><text x="424.4">1</text><text x="453">0</text><text x="481.6">0</text><text x="510.1">0</text><text x="538.7">0</text><text x="567.2">0</text><text x="595.8">5</text><text x="624.4">0</text><text x="652.9">0</text><text x="681.5">0</text><text x="710.1">0</text><text x="738.6">0</text><text x="767.2">0</text><text x="795.7">0</text><text x="824.3">0</text><text x="852.9">3</text><text x="881.4">0</text><text x="910">0</text><text x="938.6">0</text><text x="967.1">0</text><text x="995.7">0</text><text x="1024.2">0</text><text x="1052.8">0</text><text x="1081.4">0</text><text x="1109.9">0</text><text x="1138.5">0</text><text x="1167.1">0</text><text x="1195.6">0</text><text x="1224.2">0</text>
</g>
<g transform="translate(0 1429.9)">
<text x="110.2">0</text><text x="138.8">0</text><text x="165.8" class="w d">58</text><text x="195.9">0</text><text x="224.5">0</text><text x="253.1">0</text><text x="281.6">0</text><text x="310.2">0</text><text x="338.7">0</text><text x="367.3">0</text><text x="395.9">0</text><text x="424.4">0</text><text x="453">2</text><text x="481.6">0</text><text x="510.1">0</text><text x="538.7">0</text><text x="567.2">0</text><text x="595.8">0</text><text x="624.4">0</text><text x="652.9">0</text><text x="681.5">0</text><text x="710.1">0</text><text x="738.6">0</text><text x="767.2">0</text><text x="795.7">0</text><text x="824.3">4</text><text x="852.9">0</text><text x="881.4">0</text><text x="910">0</text><text x="938.6">0</text><text x="967.1">0</text><text x="995.7">0</text><text x="1024.2">0</text><text x="1052.8">0</text><text x="1081.4">0</text><text x="1109.9">0</text><text x="1138.5">0</text><text x="1167.1">0</text><text x="1195.6">0</text><text x="1224.2">0</text>
</g>
<g transform="translate(0 1455.7)">
<text x="110.2">0</text><text x="138.8">0</text><text x="167.4">0</text><text x="194.3" class="w d">40</text><text x="224.5">0</text><text x="253.1">1</text><text x="281.6">0</text><text x="310.2">0</text><text x="338.7">1</text><text x="367.3">0</text><text x="395.9">1</text><text x="424.4">2</text><text x="453">0</text><text x="481.6">0</text><text x="510.1">0</text><text x="538.7">0</text><text x="567.2">0</text><text x="595.8">1</text><text x="624.4">0</text><text x="651.3" class="d">10</text><text x="681.5">0</text><text x="710.1">0</text><text x="738.6">0</text><text x="767.2">0</text><text x="795.7">0</text><text x="824.3">0</text><text x="852.9">0</text><text x="881.4">0</text><text x="910">0</text><text x="938.6">0</text><text x="967.1">0</text><text x="995.7">0</text><text x="1024.2">8</text><text x="1052.8">0</text><text x="1081.4">0</text><text x="1109.9">0</text><text x="1138.5">0</text><text x="1167.1">0</text><text x="1195.6">0</text><text x="1224.2">0</text>
</g>
<g transform="translate(0 1481.5)">
<text x="110.2">0</text><text x="138.8">0</text><text x="167.4">0</text><text x="195.9">0</text><text x="222.9" class="d">27</text><text x="253.1">0</text><text x="281.6">0</text><text x="310.2">0</text><text x="338.7">0</text><text x="367.3">0</text><text x="395.9">0</text><text x="424.4">1</text><text x="453">0</text><text x="481.6">4</text><text x="510.1">0</text><text x="538.7">4</text><text x="567.2">0</text><text x="595.8">0</text><text x="624.4">0</text><text x="652.9">0</text><text x="681.5">0</text><text x="710.1">0</text><text x="738.6">0</text><text x="767.2">0</text><text x="795.7">0</text><text x="824.3">8</text><text x="852.9">0</text><text x="881.4">0</text><text x="910">1</text><text x="938.6">0</text><text x="967.1">0</text><text x="995.7">0</text><text x="1024.2">0</text><text x="1052.8">0</text><text x="1081.4">2</text><text x="1109.9">0</text><text x="1138.5">3</text><text x="1167.1">0</text><text x="1195.6">3</text><text x="1222.6" class="d">11</text>
</g>
<g transform="translate(0 1507.3)">
<text x="110.2">0</text><text x="138.8">0</text><text x="167.4">0</text><text x="195.9">0</text><text x="224.5">0</text><text x="251.4" class="w d">48</text><text x="281.6">0</text><text x="310.2">0</text><text x="338.7">0</text><text x="367.3">0</text><text x="395.9">0</text><text x="424.4">1</text><text x="453">0</text><text x="481.6">0</text><text x="510.1">0</text><text x="538.7">0</text><text x="567.2">0</text><text x="595.8">0</text><text x="624.4">6</text><text x="652.9">0</text><text x="681.5">0</text><text x="710.1">9</text><text x="738.6">0</text><text x="767.2">0</text><text x="795.7">0</text><text x="824.3">0</text><text x="852.9">0</text><text x="881.4">0</text><text x="910">0</text><text x="938.6">0</text><text x="967.1">0</text><text x="995.7">0</text><text x="1024.2">0</text><text x="1052.8">0</text><text x="1081.4">0</text><text x="1109.9">0</text><text x="1138.5">0</text><text x="1167.1">0</text><text x="1195.6">0</text><text x="1224.2">0</text>
</g>
<g transform="translate(0 1533)">
<text x="110.2">0</text><text x="137.2" class="d">13</text><text x="167.4">0</text><text x="195.9">0</text><text x="224.5">1</text><text x="253.1">0</text><text x="280" class="d">26</text><text x="310.2">0</text><text x="338.7">0</text><text x="367.3">1</text><text x="395.9">7</text><text x="424.4">0</text><text x="453">0</text><text x="481.6">0</text><text x="510.1">0</text><text x="538.7">0</text><text x="567.2">0</text><text x="595.8">0</text><text x="624.4">0</text><text x="652.9">0</text><text x="681.5">0</text><text x="710.1">0</text><text x="738.6">0</text><text x="767.2">0</text><text x="795.7">1</text><text x="824.3">0</text><text x="852.9">0</text><text x="881.4">0</text><text x="910">0</text><text x="938.6">0</text><text x="967.1">2</text><text x="995.7">0</text><text x="1024.2">0</text><text x="1052.8">0</text><text x="1081.4">1</text><text x="1109.9">0</text><text x="1138.5">7</text><text x="1167.1">0</text><text x="1195.6">1</text><text x="1224.2">4</text>
</g>
<g transform="translate(0 1558.8)">
<text x="110.2">0</text><text x="138.8">0</text><text x="167.4">0</text><text x="195.9">0</text><text x="224.5">0</text><text x="253.1">2</text><text x="281.6">0</text><text x="308.6" class="w d">54</text><text x="338.7">0</text><text x="367.3">0</text><text x="395.9">0</text><text x="424.4">1</text><text x="453">0</text><text x="481.6">0</text><text x="510.1">0</text><text x="538.7">0</text><text x="567.2">0</text><text x="595.8">0</text><text x="624.4">1</text><text x="652.9">0</text><text x="681.5">1</text><text x="710.1">0</text><text x="738.6">0</text><text x="767.2">0</text><text x="795.7">1</text><text x="824.3">1</text><text x="852.9">0</text><text x="881.4">3</text><text x="910">0</text><text x="938.6">0</text><text x="967.1">0</text><text x="995.7">0</text><text x="1024.2">0</text><text x="1052.8">0</text><text x="1081.4">0</text><text x="1109.9">0</text><text x="1138.5">0</text><text x="1167.1">0</text><text x="1195.6">0</text><text x="1224.2">0</text>
</g>
<g transform="translate(0 1584.6)">
<text x="110.2">0</text><text x="138.8">0</text><text x="167.4">0</text><text x="195.9">0</text><text x="224.5">1</text><text x="253.1">1</text><text x="281.6">0</text><text x="310.2">0</text><text x="337.1" class="w d">54</text><text x="367.3">0</text><text x="395.9">0</text><text x="424.4">0</text><text x="453">0</text><text x="481.6">0</text><text x="510.1">0</text><text x="538.7">0</text><text x="567.2">0</text><text x="595.8">5</text><text x="624.4">0</text><text x="652.9">0</text><text x="681.5">0</text><text x="710.1">0</text><text x="738.6">0</text><text x="767.2">0</text><text x="795.7">1</text><text x="824.3">0</text><text x="852.9">0</text><text x="881.4">0</text><text x="910">0</text><text x="938.6">0</text><text x="967.1">0</text><text x="995.7">0</text><text x="1024.2">0</text><text x="1052.8">0</text><text x="1081.4">0</text><text x="1109.9">2</text><text x="1138.5">0</text><text x="1167.1">0</text><text x="1195.6">0</text><text x="1224.2">0</text>
</g>
<g transform="translate(0 1610.4)">
<text x="110.2">0</text><text x="138.8">4</text><text x="167.4">0</text><text x="195.9">0</text><text x="224.5">3</text><text x="253.1">0</text><text x="281.6">0</text><text x="310.2">0</text><text x="338.7">2</text><text x="365.7" class="w d">31</text><text x="395.9">0</text><text x="424.4">1</text><text x="453">0</text><text x="481.6">0</text><text x="510.1">0</text><text x="538.7">0</text><text x="567.2">0</text><text x="595.8">0</text><text x="624.4">1</text><text x="652.9">0</text><text x="681.5">0</text><text x="710.1">0</text><text x="738.6">0</text><text x="767.2">2</text><text x="795.7">3</text><text x="824.3">0</text><text x="851.3" class="d">12</text><text x="881.4">0</text><text x="910">0</text><text x="938.6">0</text><text x="967.1">1</text><text x="995.7">0</text><text x="1024.2">0</text><text x="1052.8">0</text><text x="1081.4">2</text><text x="1109.9">0</text><text x="1138.5">1</text><text x="1167.1">0</text><text x="1195.6">0</text><text x="1224.2">1</text>
</g>
<g transform="translate(0 1636.1)">
<text x="110.2">0</text><text x="138.8">1</text><text x="167.4">0</text><text x="195.9">0</text><text x="224.5">0</text><text x="253.1">0</text><text x="281.6">0</text><text x="310.2">0</text><text x="338.7">0</text><text x="367.3">0</text><text x="394.3" class="w d">41</text><text x="424.4">6</text><text x="453">0</text><text x="481.6">0</text><text x="510.1">0</text><text x="538.7">0</text><text x="567.2">0</text><text x="595.8">0</text><text x="624.4">0</text><text x="652.9">8</text><text x="681.5">0</text><text x="710.1">0</text><text x="738.6">0</text><text x="767.2">0</text><text x="795.7">0</text><text x="824.3">0</text><text x="852.9">0</text><text x="881.4">0</text><text x="910">0</text><text x="938.6">0</text><text x="967.1">0</text><text x="995.7">0</text><text x="1024.2">1</text><text x="1052.8">0</text><text x="1081.4">0</text><text x="1109.9">0</text><text x="1138.5">0</text><text x="1167.1">0</text><text x="1195.6">0</text><text x="1224.2">7</text>
</g>
<g transform="translate(0 1661.9)">
<text x="110.2">0</text><text x="138.8">0</text><text x="167.4">0</text><text x="195.9">0</text><text x="224.5">0</text><text x="253.1">0</text><text x="281.6">0</text><text x="310.2">0</text><text x="338.7">0</text><text x="367.3">1</text><text x="395.9">1</text><text x="422.8" class="w d">60</text><text x="453">0</text><text x="481.6">0</text><text x="510.1">0</text><text x="538.7">0</text><text x="567.2">0</text><text x="595.8">0</text><text x="624.4">0</text><text x="652.9">0</text><text x="681.5">0</text><text x="710.1">0</text><text x="738.6">0</text><text x="767.2">0</text><text x="795.7">0</text><text x="824.3">0</text><text x="852.9">2</text><text x="881.4">0</text><text x="910">0</text><text x="938.6">0</text><text x="967.1">0</text><text x="995.7">0</text><text x="1024.2">0</text><text x="1052.8">0</text><text x="1081.4">0</text><text x="1109.9">0</text><text x="1138.5">0</text><text x="1167.1">0</text><text x="1195.6">0</text><text x="1224.2">0</text>
</g>
<g transform="translate(0 1687.7)">
<text x="110.2">0</text><text x="138.8">0</text><text x="167.4">0</text><text x="195.9">0</text><text x="224.5">0</text><text x="253.1">0</text><text x="281.6">0</text><text x="310.2">0</text><text x="338.7">3</text><text x="367.3">0</text><text x="395.9">0</text><text x="424.4">0</text><text x="451.4" class="w d">48</text><text x="481.6">0</text><text x="510.1">0</text><text x="538.7">0</text><text x="567.2">0</text><text x="595.8">1</text><text x="624.4">4</text><text x="652.9">0</text><text x="681.5">0</text><text x="710.1">6</text><text x="738.6">0</text><text x="767.2">0</text><text x="795.7">0</text><text x="824.3">1</text><text x="852.9">0</text><text x="881.4">0</text><text x="910">0</text><text x="938.6">0</text><text x="967.1">0</text><text x="995.7">0</text><text x="1024.2">0</text><text x="1052.8">0</text><text x="1081.4">0</text><text x="1109.9">0</text><text x="1138.5">1</text><text x="1167.1">0</text><text x="1195.6">0</text><text x="1224.2">0</text>
</g>
<g transform="translate(0 1713.5)">
<text x="110.2">0</text><text x="138.8">0</text><text x="167.4">0</text><text x="195.9">0</text><text x="224.5">3</text><text x="253.1">0</text><text x="281.6">0</text><text x="310.2">0</text><text x="338.7">0</text><text x="367.3">0</text><text x="395.9">0</text><text x="424.4">0</text><text x="453">0</text><text x="479.9" class="d">20</text><text x="510.1">0</text><text x="538.7">4</text><text x="567.2">0</text><text x="595.8">0</text><text x="624.4">0</text><text x="652.9">0</text><text x="681.5">0</text><text x="710.1">0</text><text x="738.6">0</text><text x="767.2">0</text><text x="795.7">0</text><text x="824.3">0</text><text x="852.9">9</text><text x="881.4">0</text><text x="908.4" class="d">12</text><text x="938.6">0</text><text x="967.1">0</text><text x="995.7">0</text><text x="1024.2">0</text><text x="1052.8">0</text><text x="1081.4">0</text><text x="1109.9">0</text><text x="1136.9" class="d">12</text><text x="1167.1">0</text><text x="1195.6">2</text><text x="1224.2">2</text>
</g>
<g transform="translate(0 1739.2)">
<text x="110.2">0</text><text x="138.8">1</text><text x="167.4">0</text><text x="195.9">0</text><text x="224.5">0</text><text x="253.1">0</text><text x="281.6">0</text><text x="310.2">0</text><text x="338.7">0</text><text x="367.3">0</text><text x="394.3" class="d">11</text><text x="424.4">2</text><text x="453">0</text><text x="481.6">0</text><text x="508.5" class="w d">29</text><text x="538.7">0</text><text x="567.2">0</text><text x="595.8">0</text><text x="624.4">0</text><text x="652.9">1</text><text x="681.5">0</text><text x="710.1">0</text><text x="738.6">0</text><text x="767.2">0</text><text x="795.7">1</text><text x="824.3">0</text><text x="852.9">1</text><text x="881.4">0</text><text x="910">0</text><text x="938.6">0</text><text x="967.1">0</text><text x="995.7">0</text><text x="1024.2">0</text><text x="1052.8">5</text><text x="1081.4">8</text><text x="1109.9">3</text><text x="1138.5">0</text><text x="1167.1">0</text><text x="1195.6">0</text><text x="1224.2">2</text>
</g>
<g transform="translate(0 1765)">
<text x="110.2">0</text><text x="138.8">1</text><text x="167.4">2</text><text x="195.9">0</text><text x="222.9" class="d">14</text><text x="253.1">1</text><text x="281.6">0</text><text x="310.2">0</text><text x="338.7">0</text><text x="367.3">4</text><text x="395.9">0</text><text x="424.4">2</text><text x="453">0</text><text x="481.6">0</text><text x="510.1">0</text><text x="537.1" class="w d">32</text><text x="567.2">0</text><text x="595.8">0</text><text x="624.4">0</text><text x="652.9">0</text><text x="681.5">0</text><text x="710.1">0</text><text x="738.6">0</text><text x="767.2">0</text><text x="795.7">0</text><text x="824.3">0</text><text x="852.9">1</text><text x="881.4">0</text><text x="910">0</text><text x="938.6">0</text><text x="967.1">1</text><text x="995.7">0</text><text x="1024.2">0</text><text x="1052.8">0</text><text x="1081.4">0</text><text x="1109.9">0</text><text x="1138.5">3</text><text x="1167.1">0</text><text x="1195.6">1</text><text x="1224.2">2</text>
</g>
<g transform="translate(0 1790.8)">
<text x="110.2">0</text><text x="138.8">0</text><text x="167.4">2</text><text x="195.9">0</text><text x="224.5">0</text><text x="253.1">1</text><text x="281.6">0</text><text x="310.2">0</text><text x="338.7">0</text><text x="367.3">0</text><text x="395.9">0</text><text x="424.4">4</text><text x="453">0</text><text x="481.6">0</text><text x="510.1">0</text><text x="538.7">0</text><text x="565.6" class="d">13</text><text x="595.8">0</text><text x="624.4">1</text><text x="652.9">1</text><text x="681.5">6</text><text x="710.1">0</text><text x="738.6">1</text><text x="767.2">0</text><text x="795.7">0</text><text x="824.3">0</text><text x="852.9">0</text><text x="879.8" class="d">28</text><text x="910">0</text><text x="938.6">0</text><text x="967.1">0</text><text x="995.7">0</text><text x="1024.2">0</text><text x="1052.8">0</text><text x="1081.4">0</text><text x="1109.9">5</text><text x="1138.5">0</text><text x="1167.1">0</text><text x="1195.6">0</text><text x="1224.2">2</text>
</g>
<g transform="translate(0 1816.6)">
<text x="110.2">6</text><text x="138.8">0</text><text x="167.4">0</text><text x="195.9">0</text><text x="224.5">0</text><text x="253.1">2</text><text x="281.6">0</text><text x="310.2">1</text><text x="338.7">2</text><text x="367.3">0</text><text x="395.9">0</text><text x="424.4">2</text><text x="453">0</text><text x="481.6">0</text><text x="510.1">0</text><text x="538.7">0</text><text x="567.2">0</text><text x="594.2" class="w d">40</text><text x="624.4">0</text><text x="652.9">0</text><text x="681.5">0</text><text x="710.1">4</text><text x="738.6">0</text><text x="767.2">0</text><text x="795.7">2</text><text x="824.3">0</text><text x="852.9">0</text><text x="881.4">0</text><text x="910">0</text><text x="938.6">0</text><text x="967.1">0</text><text x="995.7">0</text><text x="1024.2">0</text><text x="1052.8">3</text><text x="1081.4">0</text><text x="1109.9">0</text><text x="1138.5">2</text><text x="1167.1">0</text><text x="1195.6">0</text><text x="1224.2">0</text>
</g>
<g transform="translate(0 1842.3)">
<text x="110.2">3</text><text x="138.8">0</text><text x="167.4">5</text><text x="195.9">0</text><text x="224.5">0</text><text x="253.1">1</text><text x="281.6">0</text><text x="310.2">0</text><text x="337.1" class="d">13</text><text x="367.3">1</text><text x="395.9">0</text><text x="424.4">0</text><text x="453">7</text><text x="481.6">0</text><text x="510.1">0</text><text x="538.7">0</text><text x="567.2">0</text><text x="595.8">0</text><text x="622.8" class="d">28</text><text x="652.9">0</text><text x="681.5">0</text><text x="710.1">1</text><text x="738.6">0</text><text x="767.2">0</text><text x="795.7">1</text><text x="824.3">0</text><text x="852.9">0</text><text x="881.4">0</text><text x="910">1</text><text x="938.6">0</text><text x="967.1">0</text><text x="995.7">0</text><text x="1024.2">0</text><text x="1052.8">0</text><text x="1081.4">0</text><text x="1109.9">2</text><text x="1138.5">0</text><text x="1167.1">1</text><text x="1195.6">0</text><text x="1224.2">0</text>
</g>
<g transform="translate(0 1868.1)">
<text x="110.2">0</text><text x="138.8">3</text><text x="167.4">0</text><text x="195.9">7</text><text x="224.5">0</text><text x="253.1">7</text><text x="281.6">0</text><text x="310.2">0</text><text x="338.7">1</text><text x="367.3">0</text><text x="395.9">0</text><text x="424.4">1</text><text x="453">0</text><text x="481.6">0</text><text x="510.1">0</text><text x="538.7">0</text><text x="567.2">0</text><text x="595.8">0</text><text x="624.4">0</text><text x="651.3" class="w d">38</text><text x="681.5">0</text><text x="710.1">0</text><text x="738.6">0</text><text x="767.2">0</text><text x="795.7">0</text><text x="824.3">0</text><text x="852.9">0</text><text x="881.4">0</text><text x="910">0</text><text x="938.6">0</text><text x="967.1">0</text><text x="995.7">0</text><text x="1024.2">1</text><text x="1052.8">0</text><text x="1081.4">0</text><text x="1109.9">0</text><text x="1138.5">0</text><text x="1167.1">0</text><text x="1195.6">0</text><text x="1224.2">6</text>
</g>
<g transform="translate(0 1893.9)">
<text x="110.2">0</text><text x="138.8">0</text><text x="167.4">2</text><text x="195.9">0</text><text x="224.5">0</text><text x="253.1">0</text><text x="281.6">0</text><text x="310.2">0</text><text x="338.7">0</text><text x="367.3">0</text><text x="395.9">0</text><text x="424.4">3</text><text x="453">0</text><text x="481.6">0</text><text x="510.1">0</text><text x="538.7">0</text><text x="567.2">1</text><text x="595.8">0</text><text x="624.4">0</text><text x="652.9">0</text><text x="679.9" class="d">19</text><text x="710.1">1</text><text x="738.6">0</text><text x="767.2">0</text><text x="795.7">0</text><text x="824.3">0</text><text x="852.9">0</text><text x="879.8" class="w d">36</text><text x="910">0</text><text x="938.6">0</text><text x="967.1">0</text><text x="995.7">0</text><text x="1024.2">0</text><text x="1052.8">0</text><text x="1081.4">0</text><text x="1109.9">0</text><text x="1138.5">0</text><text x="1167.1">0</text><text x="1195.6">0</text><text x="1224.2">2</text>
</g>
<g transform="translate(0 1919.7)">
<text x="110.2">0</text><text x="138.8">2</text><text x="167.4">1</text><text x="195.9">0</text><text x="224.5">0</text><text x="253.1">0</text><text x="281.6">0</text><text x="310.2">0</text><text x="338.7">0</text><text x="367.3">0</text><text x="395.9">1</text><text x="424.4">0</text><text x="453">4</text><text x="481.6">0</text><text x="510.1">1</text><text x="538.7">0</text><text x="567.2">0</text><text x="595.8">0</text><text x="622.8" class="d">10</text><text x="652.9">0</text><text x="681.5">0</text><text x="708.4" class="w d">44</text><text x="738.6">0</text><text x="767.2">0</text><text x="795.7">0</text><text x="824.3">0</text><text x="852.9">0</text><text x="881.4">1</text><text x="910">0</text><text x="938.6">0</text><text x="967.1">0</text><text x="995.7">0</text><text x="1024.2">0</text><text x="1052.8">0</text><text x="1081.4">0</text><text x="1109.9">0</text><text x="1138.5">0</text><text x="1167.1">0</text><text x="1195.6">0</text><text x="1224.2">0</text>
</g>
<g transform="translate(0 1945.4)">
<text x="110.2">0</text><text x="138.8">0</text><text x="167.4">0</text><text x="195.9">0</text><text x="224.5">0</text><text x="253.1">0</text><text x="281.6">0</text><text x="310.2">2</text><text x="338.7">0</text><text x="367.3">0</text><text x="395.9">5</text><text x="424.4">3</text><text x="453">0</text><text x="481.6">0</text><text x="510.1">3</text><text x="538.7">0</text><text x="567.2">0</text><text x="595.8">0</text><text x="624.4">1</text><text x="652.9">0</text><text x="681.5">0</text><text x="710.1">0</text><text x="737" class="d">26</text><text x="767.2">0</text><text x="795.7">0</text><text x="824.3">0</text><text x="852.9">0</text><text x="881.4">6</text><text x="910">0</text><text x="938.6">0</text><text x="967.1">0</text><text x="995.7">0</text><text x="1024.2">6</text><text x="1052.8">3</text><text x="1081.4">0</text><text x="1109.9">3</text><text x="1138.5">0</text><text x="1167.1">6</text><text x="1195.6">0</text><text x="1224.2">0</text>
</g>
<g transform="translate(0 1971.2)">
<text x="110.2">3</text><text x="138.8">5</text><text x="167.4">0</text><text x="195.9">0</text><text x="224.5">0</text><text x="253.1">2</text><text x="281.6">0</text><text x="310.2">0</text><text x="338.7">4</text><text x="365.7" class="d">10</text><text x="395.9">0</text><text x="424.4">8</text><text x="453">0</text><text x="481.6">0</text><text x="510.1">0</text><text x="538.7">0</text><text x="567.2">0</text><text x="595.8">0</text><text x="624.4">4</text><text x="652.9">0</text><text x="681.5">0</text><text x="710.1">0</text><text x="738.6">0</text><text x="765.6" class="d">20</text><text x="795.7">5</text><text x="824.3">0</text><text x="852.9">2</text><text x="881.4">0</text><text x="910">0</text><text x="938.6">0</text><text x="967.1">0</text><text x="995.7">0</text><text x="1024.2">0</text><text x="1052.8">0</text><text x="1081.4">0</text><text x="1109.9">0</text><text x="1138.5">0</text><text x="1167.1">0</text><text x="1195.6">0</text><text x="1224.2">1</text>
</g>
<g transform="translate(0 1997)">
<text x="110.2">0</text><text x="138.8">0</text><text x="167.4">0</text><text x="195.9">0</text><text x="224.5">6</text><text x="253.1">0</text><text x="281.6">0</text><text x="310.2">0</text><text x="338.7">1</text><text x="367.3">0</text><text x="395.9">1</text><text x="424.4">1</text><text x="453">0</text><text x="481.6">0</text><text x="510.1">0</text><text x="538.7">0</text><text x="567.2">0</text><text x="595.8">0</text><text x="624.4">0</text><text x="652.9">5</text><text x="681.5">0</text><text x="710.1">0</text><text x="738.6">0</text><text x="767.2">0</text><text x="794.1" class="w d">34</text><text x="824.3">0</text><text x="852.9">0</text><text x="881.4">0</text><text x="908.4" class="d">15</text><text x="938.6">0</text><text x="967.1">0</text><text x="995.7">0</text><text x="1024.2">0</text><text x="1052.8">0</text><text x="1081.4">0</text><text x="1109.9">0</text><text x="1138.5">1</text><text x="1167.1">0</text><text x="1195.6">0</text><text x="1224.2">0</text>
</g>
<g transform="translate(0 2022.8)">
<text x="110.2">0</text><text x="138.8">0</text><text x="167.4">0</text><text x="195.9">0</text><text x="224.5">0</text><text x="253.1">0</text><text x="281.6">0</text><text x="310.2">0</text><text x="338.7">1</text><text x="367.3">0</text><text x="395.9">0</text><text x="424.4">0</text><text x="453">1</text><text x="481.6">0</text><text x="510.1">0</text><text x="538.7">0</text><text x="567.2">0</text><text x="595.8">0</text><text x="624.4">0</text><text x="652.9">0</text><text x="681.5">0</text><text x="710.1">0</text><text x="738.6">0</text><text x="767.2">0</text><text x="795.7">0</text><text x="822.7" class="w d">56</text><text x="852.9">0</text><text x="881.4">0</text><text x="910">1</text><text x="938.6">0</text><text x="967.1">0</text><text x="995.7">0</text><text x="1024.2">0</text><text x="1052.8">0</text><text x="1081.4">0</text><text x="1109.9">0</text><text x="1138.5">5</text><text x="1167.1">0</text><text x="1195.6">0</text><text x="1224.2">0</text>
</g>
<g transform="translate(0 2048.5)">
<text x="110.2">0</text><text x="138.8">1</text><text x="167.4">0</text><text x="195.9">0</text><text x="224.5">8</text><text x="253.1">0</text><text x="281.6">0</text><text x="310.2">0</text><text x="338.7">0</text><text x="367.3">3</text><text x="395.9">0</text><text x="422.8" class="d">11</text><text x="453">0</text><text x="481.6">0</text><text x="510.1">0</text><text x="538.7">0</text><text x="567.2">0</text><text x="595.8">0</text><text x="624.4">0</text><text x="652.9">0</text><text x="681.5">0</text><text x="710.1">0</text><text x="738.6">0</text><text x="767.2">0</text><text x="795.7">0</text><text x="824.3">0</text><text x="851.3" class="w d">39</text><text x="881.4">0</text><text x="910">0</text><text x="938.6">0</text><text x="967.1">2</text><text x="995.7">0</text><text x="1024.2">0</text><text x="1052.8">0</text><text x="1081.4">0</text><text x="1109.9">0</text><text x="1138.5">0</text><text x="1167.1">0</text><text x="1195.6">0</text><text x="1224.2">0</text>
</g>
<g transform="translate(0 2074.3)">
<text x="110.2">0</text><text x="138.8">2</text><text x="167.4">1</text><text x="195.9">0</text><text x="224.5">0</text><text x="253.1">0</text><text x="281.6">0</text><text x="310.2">0</text><text x="338.7">0</text><text x="367.3">0</text><text x="395.9">0</text><text x="424.4">5</text><text x="453">0</text><text x="481.6">0</text><text x="510.1">0</text><text x="538.7">0</text><text x="567.2">4</text><text x="595.8">0</text><text x="624.4">0</text><text x="652.9">0</text><text x="681.5">0</text><text x="710.1">1</text><text x="738.6">0</text><text x="767.2">0</text><text x="795.7">0</text><text x="824.3">0</text><text x="852.9">0</text><text x="879.8" class="w d">46</text><text x="910">0</text><text x="938.6">0</text><text x="967.1">0</text><text x="995.7">0</text><text x="1024.2">0</text><text x="1052.8">0</text><text x="1081.4">2</text><text x="1109.9">0</text><text x="1138.5">0</text><text x="1167.1">0</text><text x="1195.6">0</text><text x="1224.2">3</text>
</g>
<g transform="translate(0 2100.1)">
<text x="110.2">1</text><text x="138.8">0</text><text x="167.4">0</text><text x="195.9">0</text><text x="222.9" class="d">15</text><text x="253.1">0</text><text x="281.6">0</text><text x="310.2">0</text><text x="338.7">1</text><text x="367.3">0</text><text x="395.9">0</text><text x="424.4">1</text><text x="453">0</text><text x="481.6">0</text><text x="510.1">0</text><text x="538.7">0</text><text x="567.2">0</text><text x="595.8">0</text><text x="624.4">0</text><text x="652.9">0</text><text x="681.5">0</text><text x="710.1">0</text><text x="738.6">0</text><text x="767.2">0</text><text x="795.7">8</text><text x="824.3">0</text><text x="852.9">0</text><text x="881.4">0</text><text x="908.4" class="w d">35</text><text x="938.6">0</text><text x="967.1">0</text><text x="995.7">0</text><text x="1024.2">0</text><text x="1052.8">0</text><text x="1081.4">0</text><text x="1109.9">0</text><text x="1138.5">1</text><text x="1167.1">0</text><text x="1195.6">1</text><text x="1224.2">1</text>
</g>
<g transform="translate(0 2125.9)">
<text x="110.2">0</text><text x="138.8">1</text><text x="167.4">0</text><text x="195.9">0</text><text x="224.5">0</text><text x="253.1">0</text><text x="281.6">0</text><text x="310.2">2</text><text x="338.7">0</text><text x="367.3">0</text><text x="395.9">0</text><text x="424.4">8</text><text x="453">0</text><text x="481.6">1</text><text x="510.1">0</text><text x="538.7">0</text><text x="567.2">4</text><text x="595.8">0</text><text x="624.4">0</text><text x="652.9">0</text><text x="681.5">9</text><text x="710.1">2</text><text x="738.6">0</text><text x="767.2">0</text><text x="795.7">0</text><text x="824.3">0</text><text x="852.9">0</text><text x="881.4">6</text><text x="910">0</text><text x="936.9" class="d">14</text><text x="967.1">0</text><text x="995.7">0</text><text x="1024.2">1</text><text x="1052.8">1</text><text x="1081.4">2</text><text x="1108.3" class="d">13</text><text x="1138.5">0</text><text x="1167.1">0</text><text x="1195.6">0</text><text x="1224.2">0</text>
</g>
<g transform="translate(0 2151.6)">
<text x="110.2">0</text><text x="138.8">0</text><text x="167.4">0</text><text x="195.9">0</text><text x="224.5">2</text><text x="253.1">3</text><text x="281.6">0</text><text x="310.2">0</text><text x="338.7">0</text><text x="367.3">0</text><text x="395.9">0</text><text x="424.4">0</text><text x="453">2</text><text x="481.6">0</text><text x="510.1">0</text><text x="538.7">0</text><text x="567.2">0</text><text x="595.8">1</text><text x="624.4">0</text><text x="652.9">0</text><text x="681.5">0</text><text x="710.1">1</text><text x="738.6">0</text><text x="767.2">0</text><text x="795.7">0</text><text x="824.3">0</text><text x="852.9">0</text><text x="881.4">0</text><text x="910">0</text><text x="938.6">0</text><text x="965.5" class="w d">42</text><text x="995.7">0</text><text x="1024.2">0</text><text x="1052.8">0</text><text x="1081.4">0</text><text x="1109.9">0</text><text x="1136.9" class="d">12</text><text x="1167.1">0</text><text x="1195.6">0</text><text x="1224.2">1</text>
</g>
<g transform="translate(0 2177.4)">
<text x="110.2">0</text><text x="138.8">1</text><text x="167.4">0</text><text x="195.9">0</text><text x="222.9" class="d">22</text><text x="253.1">2</text><text x="281.6">0</text><text x="310.2">0</text><text x="338.7">1</text><text x="367.3">0</text><text x="395.9">1</text><text x="424.4">1</text><text x="453">0</text><text x="481.6">1</text><text x="510.1">0</text><text x="538.7">0</text><text x="567.2">0</text><text x="595.8">0</text><text x="624.4">0</text><text x="652.9">0</text><text x="681.5">0</text><text x="710.1">0</text><text x="738.6">0</text><text x="767.2">0</text><text x="795.7">2</text><text x="824.3">0</text><text x="852.9">0</text><text x="881.4">0</text><text x="910">1</text><text x="938.6">0</text><text x="967.1">0</text><text x="994.1" class="w d">31</text><text x="1024.2">0</text><text x="1052.8">0</text><text x="1081.4">0</text><text x="1109.9">0</text><text x="1138.5">1</text><text x="1167.1">0</text><text x="1195.6">0</text><text x="1224.2">0</text>
</g>
<g transform="translate(0 2203.2)">
<text x="110.2">1</text><text x="138.8">0</text><text x="167.4">0</text><text x="195.9">9</text><text x="224.5">0</text><text x="253.1">2</text><text x="281.6">0</text><text x="310.2">9</text><text x="338.7">0</text><text x="367.3">0</text><text x="395.9">0</text><text x="424.4">1</text><text x="453">0</text><text x="481.6">0</text><text x="510.1">0</text><text x="538.7">0</text><text x="567.2">0</text><text x="595.8">0</text><text x="624.4">0</text><text x="652.9">8</text><text x="681.5">0</text><text x="710.1">0</text><text x="738.6">2</text><text x="767.2">0</text><text x="795.7">0</text><text x="824.3">0</text><text x="852.9">0</text><text x="881.4">1</text><text x="910">0</text><text x="938.6">0</text><text x="967.1">0</text><text x="995.7">0</text><text x="1022.6" class="w d">31</text><text x="1052.8">0</text><text x="1081.4">0</text><text x="1109.9">0</text><text x="1138.5">0</text><text x="1167.1">0</text><text x="1195.6">0</text><text x="1224.2">0</text>
</g>
<g transform="translate(0 2229)">
<text x="110.2">1</text><text x="138.8">1</text><text x="167.4">0</text><text x="195.9">0</text><text x="224.5">0</text><text x="253.1">1</text><text x="281.6">1</text><text x="310.2">0</text><text x="338.7">0</text><text x="367.3">0</text><text x="395.9">0</text><text x="424.4">5</text><text x="453">0</text><text x="481.6">0</text><text x="510.1">4</text><text x="538.7">0</text><text x="567.2">0</text><text x="595.8">0</text><text x="624.4">0</text><text x="652.9">0</text><text x="681.5">0</text><text x="710.1">0</text><text x="738.6">1</text><text x="767.2">0</text><text x="795.7">0</text><text x="824.3">0</text><text x="852.9">0</text><text x="881.4">0</text><text x="910">0</text><text x="938.6">7</text><text x="967.1">0</text><text x="995.7">0</text><text x="1024.2">4</text><text x="1051.2" class="d">21</text><text x="1081.4">6</text><text x="1108.3" class="d">11</text><text x="1138.5">0</text><text x="1167.1">1</text><text x="1195.6">0</text><text x="1224.2">0</text>
</g>
<g transform="translate(0 2254.7)">
<text x="110.2">0</text><text x="138.8">0</text><text x="167.4">0</text><text x="195.9">0</text><text x="224.5">0</text><text x="253.1">0</text><text x="281.6">0</text><text x="310.2">0</text><text x="338.7">1</text><text x="367.3">2</text><text x="395.9">1</text><text x="424.4">3</text><text x="453">0</text><text x="481.6">0</text><text x="510.1">0</text><text x="538.7">0</text><text x="567.2">0</text><text x="595.8">0</text><text x="624.4">0</text><text x="652.9">0</text><text x="681.5">0</text><text x="710.1">0</text><text x="738.6">0</text><text x="767.2">0</text><text x="795.7">0</text><text x="824.3">0</text><text x="852.9">0</text><text x="881.4">0</text><text x="910">0</text><text x="938.6">1</text><text x="967.1">0</text><text x="995.7">0</text><text x="1024.2">0</text><text x="1052.8">3</text><text x="1079.8" class="w d">32</text><text x="1108.3" class="d">21</text><text x="1138.5">0</text><text x="1167.1">0</text><text x="1195.6">0</text><text x="1224.2">0</text>
</g>
<g transform="translate(0 2280.5)">
<text x="110.2">0</text><text x="138.8">3</text><text x="167.4">0</text><text x="195.9">0</text><text x="224.5">0</text><text x="253.1">0</text><text x="281.6">0</text><text x="310.2">0</text><text x="338.7">0</text><text x="367.3">0</text><text x="395.9">0</text><text x="424.4">1</text><text x="453">0</text><text x="481.6">0</text><text x="510.1">0</text><text x="538.7">0</text><text x="567.2">1</text><text x="595.8">0</text><text x="624.4">0</text><text x="652.9">0</text><text x="679.9" class="d">12</text><text x="710.1">0</text><text x="738.6">1</text><text x="767.2">0</text><text x="795.7">0</text><text x="824.3">0</text><text x="852.9">0</text><text x="881.4">0</text><text x="910">0</text><text x="938.6">0</text><text x="967.1">0</text><text x="995.7">0</text><text x="1024.2">0</text><text x="1052.8">0</text><text x="1081.4">0</text><text x="1108.3" class="w d">46</text><text x="1138.5">0</text><text x="1167.1">0</text><text x="1195.6">0</text><text x="1224.2">0</text>
</g>
<g transform="translate(0 2306.3)">
<text x="110.2">0</text><text x="138.8">0</text><text x="167.4">0</text><text x="195.9">0</text><text x="224.5">0</text><text x="253.1">2</text><text x="281.6">0</text><text x="310.2">0</text><text x="337.1" class="d">14</text><text x="367.3">0</text><text x="395.9">0</text><text x="424.4">0</text><text x="453">1</text><text x="481.6">0</text><text x="510.1">0</text><text x="538.7">0</text><text x="567.2">0</text><text x="595.8">1</text><text x="624.4">0</text><text x="652.9">0</text><text x="681.5">0</text><text x="710.1">0</text><text x="738.6">0</text><text x="767.2">0</text><text x="795.7">0</text><text x="824.3">0</text><text x="852.9">0</text><text x="881.4">0</text><text x="910">0</text><text x="938.6">0</text><text x="967.1">0</text><text x="995.7">0</text><text x="1024.2">0</text><text x="1052.8">0</text><text x="1081.4">0</text><text x="1109.9">0</text><text x="1136.9" class="w d">46</text><text x="1167.1">0</text><text x="1195.6">0</text><text x="1224.2">0</text>
</g>
<g transform="translate(0 2332.1)">
<text x="110.2">0</text><text x="138.8">2</text><text x="167.4">0</text><text x="195.9">4</text><text x="224.5">0</text><text x="253.1">6</text><text x="281.6">0</text><text x="310.2">2</text><text x="338.7">5</text><text x="367.3">0</text><text x="395.9">0</text><text x="424.4">0</text><text x="453">0</text><text x="481.6">0</text><text x="510.1">4</text><text x="538.7">0</text><text x="567.2">0</text><text x="595.8">0</text><text x="624.4">0</text><text x="652.9">1</text><text x="681.5">0</text><text x="710.1">0</text><text x="738.6">0</text><text x="767.2">0</text><text x="795.7">7</text><text x="824.3">0</text><text x="852.9">0</text><text x="881.4">0</text><text x="910">0</text><text x="938.6">0</text><text x="967.1">0</text><text x="995.7">0</text><text x="1024.2">1</text><text x="1052.8">0</text><text x="1081.4">0</text><text x="1109.9">2</text><text x="1138.5">0</text><text x="1165.4" class="w d">30</text><text x="1195.6">0</text><text x="1224.2">0</text>
</g>
<g transform="translate(0 2357.8)">
<text x="110.2">0</text><text x="138.8">0</text><text x="167.4">1</text><text x="195.9">0</text><text x="224.5">9</text><text x="253.1">1</text><text x="281.6">0</text><text x="310.2">0</text><text x="338.7">0</text><text x="367.3">2</text><text x="395.9">0</text><text x="424.4">5</text><text x="453">0</text><text x="481.6">0</text><text x="510.1">0</text><text x="538.7">7</text><text x="567.2">0</text><text x="595.8">0</text><text x="624.4">0</text><text x="652.9">0</text><text x="681.5">0</text><text x="710.1">0</text><text x="738.6">0</text><text x="767.2">0</text><text x="795.7">0</text><text x="824.3">0</text><text x="852.9">0</text><text x="881.4">0</text><text x="910">0</text><text x="938.6">0</text><text x="967.1">0</text><text x="995.7">0</text><text x="1024.2">0</text><text x="1052.8">0</text><text x="1081.4">0</text><text x="1109.9">0</text><text x="1138.5">0</text><text x="1167.1">0</text><text x="1194" class="w d">38</text><text x="1224.2">1</text>
</g>
<g transform="translate(0 2383.6)">
<text x="110.2">0</text><text x="138.8">0</text><text x="167.4">0</text><text x="195.9">0</text><text x="224.5">0</text><text x="253.1">0</text><text x="281.6">0</text><text x="310.2">1</text><text x="338.7">0</text><text x="367.3">0</text><text x="395.9">2</text><text x="424.4">0</text><text x="453">0</text><text x="481.6">0</text><text x="510.1">0</text><text x="538.7">0</text><text x="567.2">0</text><text x="595.8">0</text><text x="624.4">0</text><text x="652.9">1</text><text x="681.5">0</text><text x="710.1">0</text><text x="738.6">0</text><text x="767.2">0</text><text x="795.7">0</text><text x="824.3">0</text><text x="852.9">0</text><text x="881.4">0</text><text x="910">0</text><text x="938.6">0</text><text x="967.1">2</text><text x="995.7">0</text><text x="1024.2">0</text><text x="1052.8">0</text><text x="1081.4">0</text><text x="1109.9">0</text><text x="1136.9" class="d">21</text><text x="1167.1">0</text><text x="1195.6">0</text><text x="1222.6" class="w d">37</text>
</g>
</g>
<g class="yt" transform="scale(1.04 1)">
<text x="76.4" y="1378.6">0</text>
<text x="76.4" y="1404.4">1</text>
<text x="76.4" y="1430.1">2</text>
<text x="76.4" y="1455.9">3</text>
<text x="76.4" y="1481.7">4</text>
<text x="76.4" y="1507.5">5</text>
<text x="76.4" y="1533.2">6</text>
<text x="76.4" y="1559">7</text>
<text x="76.4" y="1584.8">8</text>
<text x="76.4" y="1610.6">9</text>
<text class="d" x="77.6" y="1636.3">10</text>
<text class="d" x="77.6" y="1662.1">11</text>
<text class="d" x="77.6" y="1687.9">12</text>
<text class="d" x="77.6" y="1713.7">13</text>
<text class="d" x="77.6" y="1739.4">14</text>
<text class="d" x="77.6" y="1765.2">15</text>
<text class="d" x="77.6" y="1791">16</text>
<text class="d" x="77.6" y="1816.8">17</text>
<text class="d" x="77.6" y="1842.5">18</text>
<text class="d" x="77.6" y="1868.3">19</text>
<text class="d" x="77.6" y="1894.1">20</text>
<text class="d" x="77.6" y="1919.9">21</text>
<text class="d" x="77.6" y="1945.6">22</text>
<text class="d" x="77.6" y="1971.4">23</text>
<text class="d" x="77.6" y="1997.2">24</text>
<text class="d" x="77.6" y="2023">25</text>
<text class="d" x="77.6" y="2048.7">26</text>
<text class="d" x="77.6" y="2074.5">27</text>
<text class="d" x="77.6" y="2100.3">28</text>
<text class="d" x="77.6" y="2126.1">29</text>
<text class="d" x="77.6" y="2151.8">30</text>
<text class="d" x="77.6" y="2177.6">31</text>
<text class="d" x="77.6" y="2203.4">32</text>
<text class="d" x="77.6" y="2229.2">33</text>
<text class="d" x="77.6" y="2254.9">34</text>
<text class="d" x="77.6" y="2280.7">35</text>
<text class="d" x="77.6" y="2306.5">36</text>
<text class="d" x="77.6" y="2332.3">37</text>
<text class="d" x="77.6" y="2358">38</text>
<text class="d" x="77.6" y="2383.8">39</text>
</g>
<g class="xt">
<text transform="translate(122 2412.7) rotate(-90) scale(1.0 1)">0</text>
<text transform="translate(151.7 2412.7) rotate(-90) scale(1.0 1)">1</text>
<text transform="translate(181.4 2412.7) rotate(-90) scale(1.0 1)">2</text>
<text transform="translate(211.1 2412.7) rotate(-90) scale(1.0 1)">3</text>
<text transform="translate(240.8 2412.7) rotate(-90) scale(1.0 1)">4</text>
<text transform="translate(270.5 2412.7) rotate(-90) scale(1.0 1)">5</text>
<text transform="translate(300.2 2412.7) rotate(-90) scale(1.0 1)">6</text>
<text transform="translate(329.9 2412.7) rotate(-90) scale(1.0 1)">7</text>
<text transform="translate(359.6 2412.7) rotate(-90) scale(1.0 1)">8</text>
<text transform="translate(389.3 2412.7) rotate(-90) scale(1.0 1)">9</text>
<text transform="translate(419 2416) rotate(-90) scale(1.0 1)">10</text>
<text transform="translate(448.7 2416) rotate(-90) scale(1.0 1)">11</text>
<text transform="translate(478.4 2416) rotate(-90) scale(1.0 1)">12</text>
<text transform="translate(508.1 2416) rotate(-90) scale(1.0 1)">13</text>
<text transform="translate(537.8 2416) rotate(-90) scale(1.0 1)">14</text>
<text transform="translate(567.5 2416) rotate(-90) scale(1.0 1)">15</text>
<text transform="translate(597.2 2416) rotate(-90) scale(1.0 1)">16</text>
<text transform="translate(626.9 2416) rotate(-90) scale(1.0 1)">17</text>
<text transform="translate(656.6 2416) rotate(-90) scale(1.0 1)">18</text>
<text transform="translate(686.3 2416) rotate(-90) scale(1.0 1)">19</text>
<text transform="translate(716.1 2416) rotate(-90) scale(1.0 1)">20</text>
<text transform="translate(745.8 2416) rotate(-90) scale(1.0 1)">21</text>
<text transform="translate(775.5 2416) rotate(-90) scale(1.0 1)">22</text>
<text transform="translate(805.2 2416) rotate(-90) scale(1.0 1)">23</text>
<text transform="translate(834.9 2416) rotate(-90) scale(1.0 1)">24</text>
<text transform="translate(864.6 2416) rotate(-90) scale(1.0 1)">25</text>
<text transform="translate(894.3 2416) rotate(-90) scale(1.0 1)">26</text>
<text transform="translate(924 2416) rotate(-90) scale(1.0 1)">27</text>
<text transform="translate(953.7 2416) rotate(-90) scale(1.0 1)">28</text>
<text transform="translate(983.4 2416) rotate(-90) scale(1.0 1)">29</text>
<text transform="translate(1013.1 2416) rotate(-90) scale(1.0 1)">30</text>
<text transform="translate(1042.8 2416) rotate(-90) scale(1.0 1)">31</text>
<text transform="translate(1072.5 2416) rotate(-90) scale(1.0 1)">32</text>
<text transform="translate(1102.2 2416) rotate(-90) scale(1.0 1)">33</text>
<text transform="translate(1131.9 2416) rotate(-90) scale(1.0 1)">34</text>
<text transform="translate(1161.6 2416) rotate(-90) scale(1.0 1)">35</text>
<text transform="translate(1191.3 2416) rotate(-90) scale(1.0 1)">36</text>
<text transform="translate(1221 2416) rotate(-90) scale(1.0 1)">37</text>
<text transform="translate(1250.7 2416) rotate(-90) scale(1.0 1)">38</text>
<text transform="translate(1280.4 2416) rotate(-90) scale(1.0 1)">39</text>
</g>
<text class="ti" x="692.6" y="1342.2" textLength="270" lengthAdjust="spacingAndGlyphs">Confusion Matrix</text>
<text class="lb" x="693.6" y="2473.4" textLength="219" lengthAdjust="spacingAndGlyphs">Predicted Labels</text>
<text class="lb" transform="translate(26.9 1875.4) rotate(-90)" textLength="152" lengthAdjust="spacingAndGlyphs">True Labels</text>
<g class="ct" transform="scale(1.04 1)">
<text x="1376.7" y="2400.6">0</text>
<text x="1376.7" y="2228.8" class="d">10</text>
<text x="1376.7" y="2056.9" class="d">20</text>
<text x="1376.7" y="1885.1" class="d">30</text>
<text x="1376.7" y="1713.3" class="d">40</text>
<text x="1376.7" y="1541.4" class="d">50</text>
<text x="1376.7" y="1369.6" class="d">60</text>
</g>
</g>
<text class="pl" transform="translate(8.05 31.9) scale(.935 1)">A</text>
<text class="pl" transform="translate(7.63 1303) scale(.935 1)">B</text>
</svg>
</body></html>
